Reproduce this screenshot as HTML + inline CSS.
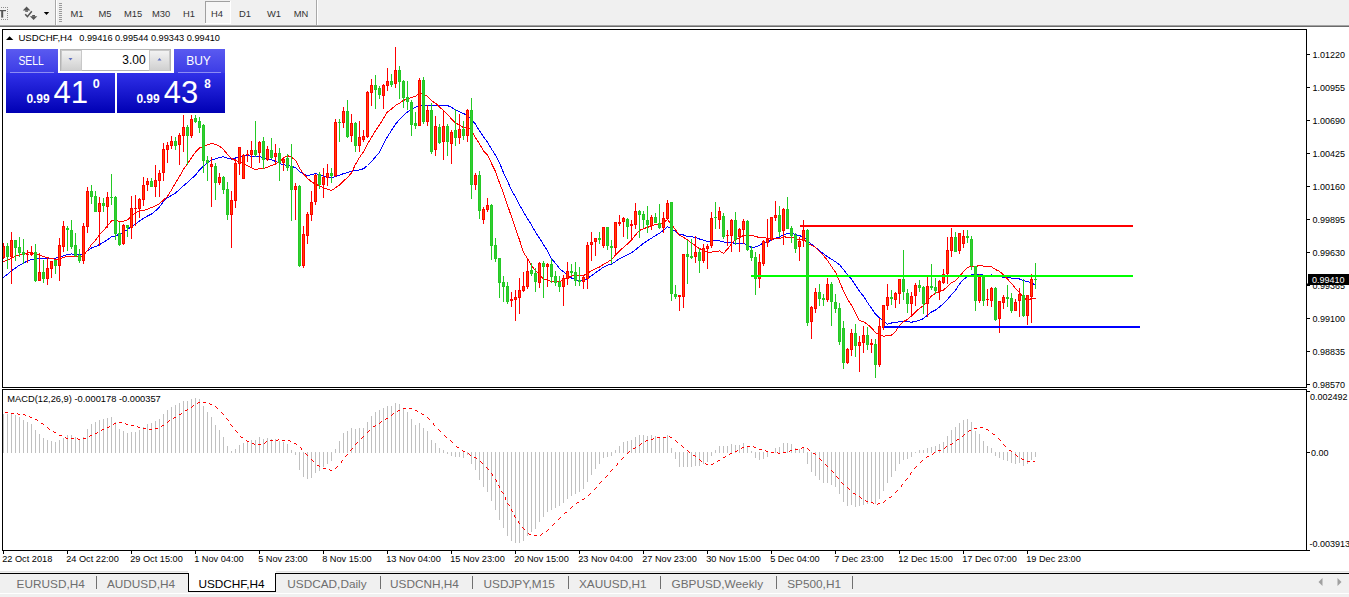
<!DOCTYPE html><html><head><meta charset="utf-8"><style>html,body{margin:0;padding:0;background:#fff;overflow:hidden}svg{display:block}text{font-family:"Liberation Sans",sans-serif}</style></head><body><svg width="1349" height="597" viewBox="0 0 1349 597"><rect x="0" y="0" width="1349" height="25" fill="#f0f0f0" />
<rect x="0" y="25" width="1349" height="1" fill="#a4a4a4" />
<rect x="0" y="26" width="1349" height="1" fill="#6a6a6a" />
<rect x="0" y="10" width="6" height="1.2" fill="#555" />
<rect x="1.2" y="10" width="2" height="7.6" fill="#555" />
<rect x="1" y="7" width="0.8" height="0.8" fill="#555" />
<rect x="1" y="19" width="0.8" height="0.8" fill="#555" />
<rect x="3" y="7" width="0.8" height="0.8" fill="#555" />
<rect x="3" y="19" width="0.8" height="0.8" fill="#555" />
<rect x="5" y="7" width="0.8" height="0.8" fill="#555" />
<rect x="5" y="19" width="0.8" height="0.8" fill="#555" />
<rect x="7.2" y="7" width="0.8" height="0.8" fill="#555" />
<rect x="7.2" y="9" width="0.8" height="0.8" fill="#555" />
<rect x="7.2" y="11" width="0.8" height="0.8" fill="#555" />
<rect x="7.2" y="13" width="0.8" height="0.8" fill="#555" />
<rect x="7.2" y="15" width="0.8" height="0.8" fill="#555" />
<rect x="7.2" y="17" width="0.8" height="0.8" fill="#555" />
<rect x="7.2" y="19" width="0.8" height="0.8" fill="#555" />
<path d="M22.8 10.6 L26.6 6.6 L30.4 10.6 Z" fill="#555"/>
<rect x="25.2" y="10.4" width="2.8" height="1.4" fill="#555" />
<path d="M29.9 16.2 L37.3 16.2 L33.6 20 Z" fill="#555"/>
<rect x="32.2" y="15" width="2.8" height="1.4" fill="#555" />
<path d="M25.2 14.2 L27.4 16.6 L31.8 11.2" stroke="#555" stroke-width="1.5" fill="none"/>
<path d="M43.8 12 L49.2 12 L46.5 15 Z" fill="#000"/>
<rect x="55" y="0" width="1" height="25" fill="#a8a8a8" />
<rect x="56" y="0" width="1" height="25" fill="#ffffff" />
<rect x="59" y="3" width="3" height="1" fill="#9a9a9a" />
<rect x="59" y="5" width="3" height="1" fill="#9a9a9a" />
<rect x="59" y="7" width="3" height="1" fill="#9a9a9a" />
<rect x="59" y="9" width="3" height="1" fill="#9a9a9a" />
<rect x="59" y="11" width="3" height="1" fill="#9a9a9a" />
<rect x="59" y="13" width="3" height="1" fill="#9a9a9a" />
<rect x="59" y="15" width="3" height="1" fill="#9a9a9a" />
<rect x="59" y="17" width="3" height="1" fill="#9a9a9a" />
<rect x="59" y="19" width="3" height="1" fill="#9a9a9a" />
<rect x="59" y="21" width="3" height="1" fill="#9a9a9a" />
<rect x="205" y="1" width="26" height="23" fill="#ffffff" />
<rect x="206" y="2" width="24" height="21" fill="#f6f6f6" />
<rect x="205" y="1" width="25" height="1" fill="#a0a0a0" />
<rect x="205" y="1" width="1" height="22" fill="#a0a0a0" />
<text x="77" y="17" font-size="9.4" fill="#333" text-anchor="middle" font-weight="normal" >M1</text>
<text x="105" y="17" font-size="9.4" fill="#333" text-anchor="middle" font-weight="normal" >M5</text>
<text x="133" y="17" font-size="9.4" fill="#333" text-anchor="middle" font-weight="normal" >M15</text>
<text x="161" y="17" font-size="9.4" fill="#333" text-anchor="middle" font-weight="normal" >M30</text>
<text x="189" y="17" font-size="9.4" fill="#333" text-anchor="middle" font-weight="normal" >H1</text>
<text x="217" y="17" font-size="9.4" fill="#333" text-anchor="middle" font-weight="normal" >H4</text>
<text x="245" y="17" font-size="9.4" fill="#333" text-anchor="middle" font-weight="normal" >D1</text>
<text x="274" y="17" font-size="9.4" fill="#333" text-anchor="middle" font-weight="normal" >W1</text>
<text x="301" y="17" font-size="9.4" fill="#333" text-anchor="middle" font-weight="normal" >MN</text>
<rect x="316" y="0" width="1" height="25" fill="#a8a8a8" />
<rect x="317" y="0" width="1" height="25" fill="#ffffff" />
<rect x="0" y="27" width="1349" height="544" fill="#ffffff" />
<rect x="2.5" y="29.5" width="1304" height="358" fill="none" stroke="#000" stroke-width="1"/>
<rect x="2.5" y="389.5" width="1304" height="161" fill="none" stroke="#000" stroke-width="1"/>
<rect x="1307" y="54" width="3" height="1" fill="#000" />
<text x="1312.5" y="57.5" font-size="9" fill="#000" text-anchor="start" font-weight="normal" >1.01220</text>
<rect x="1307" y="87" width="3" height="1" fill="#000" />
<text x="1312.5" y="90.5" font-size="9" fill="#000" text-anchor="start" font-weight="normal" >1.00955</text>
<rect x="1307" y="120" width="3" height="1" fill="#000" />
<text x="1312.5" y="123.5" font-size="9" fill="#000" text-anchor="start" font-weight="normal" >1.00690</text>
<rect x="1307" y="153" width="3" height="1" fill="#000" />
<text x="1312.5" y="156.5" font-size="9" fill="#000" text-anchor="start" font-weight="normal" >1.00425</text>
<rect x="1307" y="186" width="3" height="1" fill="#000" />
<text x="1312.5" y="189.5" font-size="9" fill="#000" text-anchor="start" font-weight="normal" >1.00160</text>
<rect x="1307" y="219" width="3" height="1" fill="#000" />
<text x="1312.5" y="222.5" font-size="9" fill="#000" text-anchor="start" font-weight="normal" >0.99895</text>
<rect x="1307" y="252" width="3" height="1" fill="#000" />
<text x="1312.5" y="255.5" font-size="9" fill="#000" text-anchor="start" font-weight="normal" >0.99630</text>
<rect x="1307" y="285" width="3" height="1" fill="#000" />
<text x="1312.5" y="288.5" font-size="9" fill="#000" text-anchor="start" font-weight="normal" >0.99365</text>
<rect x="1307" y="318" width="3" height="1" fill="#000" />
<text x="1312.5" y="321.5" font-size="9" fill="#000" text-anchor="start" font-weight="normal" >0.99100</text>
<rect x="1307" y="351" width="3" height="1" fill="#000" />
<text x="1312.5" y="354.5" font-size="9" fill="#000" text-anchor="start" font-weight="normal" >0.98835</text>
<rect x="1307" y="384" width="3" height="1" fill="#000" />
<text x="1312.5" y="387.5" font-size="9" fill="#000" text-anchor="start" font-weight="normal" >0.98570</text>
<rect x="1307" y="391" width="3" height="1" fill="#000" />
<text x="1310" y="399.5" font-size="9" fill="#000" text-anchor="start" font-weight="normal" >0.002492</text>
<rect x="1307" y="452" width="3" height="1" fill="#000" />
<text x="1311" y="455.5" font-size="9" fill="#000" text-anchor="start" font-weight="normal" >0.00</text>
<rect x="1307" y="550" width="3" height="1" fill="#000" />
<text x="1309.5" y="546.7" font-size="9" fill="#000" text-anchor="start" font-weight="normal" >-0.003913</text>
<rect x="3" y="551" width="1" height="3" fill="#000" />
<text x="2.2" y="562.3" font-size="9.2" fill="#000" text-anchor="start" font-weight="normal" >22 Oct 2018</text>
<rect x="67" y="551" width="1" height="3" fill="#000" />
<text x="66.2" y="562.3" font-size="9.2" fill="#000" text-anchor="start" font-weight="normal" >24 Oct 22:00</text>
<rect x="131" y="551" width="1" height="3" fill="#000" />
<text x="130.2" y="562.3" font-size="9.2" fill="#000" text-anchor="start" font-weight="normal" >29 Oct 15:00</text>
<rect x="195" y="551" width="1" height="3" fill="#000" />
<text x="194.2" y="562.3" font-size="9.2" fill="#000" text-anchor="start" font-weight="normal" >1 Nov 04:00</text>
<rect x="259" y="551" width="1" height="3" fill="#000" />
<text x="258.2" y="562.3" font-size="9.2" fill="#000" text-anchor="start" font-weight="normal" >5 Nov 23:00</text>
<rect x="323" y="551" width="1" height="3" fill="#000" />
<text x="322.2" y="562.3" font-size="9.2" fill="#000" text-anchor="start" font-weight="normal" >8 Nov 15:00</text>
<rect x="387" y="551" width="1" height="3" fill="#000" />
<text x="386.2" y="562.3" font-size="9.2" fill="#000" text-anchor="start" font-weight="normal" >13 Nov 04:00</text>
<rect x="451" y="551" width="1" height="3" fill="#000" />
<text x="450.2" y="562.3" font-size="9.2" fill="#000" text-anchor="start" font-weight="normal" >15 Nov 23:00</text>
<rect x="515" y="551" width="1" height="3" fill="#000" />
<text x="514.2" y="562.3" font-size="9.2" fill="#000" text-anchor="start" font-weight="normal" >20 Nov 15:00</text>
<rect x="579" y="551" width="1" height="3" fill="#000" />
<text x="578.2" y="562.3" font-size="9.2" fill="#000" text-anchor="start" font-weight="normal" >23 Nov 04:00</text>
<rect x="643" y="551" width="1" height="3" fill="#000" />
<text x="642.2" y="562.3" font-size="9.2" fill="#000" text-anchor="start" font-weight="normal" >27 Nov 23:00</text>
<rect x="707" y="551" width="1" height="3" fill="#000" />
<text x="706.2" y="562.3" font-size="9.2" fill="#000" text-anchor="start" font-weight="normal" >30 Nov 15:00</text>
<rect x="771" y="551" width="1" height="3" fill="#000" />
<text x="770.2" y="562.3" font-size="9.2" fill="#000" text-anchor="start" font-weight="normal" >5 Dec 04:00</text>
<rect x="835" y="551" width="1" height="3" fill="#000" />
<text x="834.2" y="562.3" font-size="9.2" fill="#000" text-anchor="start" font-weight="normal" >7 Dec 23:00</text>
<rect x="899" y="551" width="1" height="3" fill="#000" />
<text x="898.2" y="562.3" font-size="9.2" fill="#000" text-anchor="start" font-weight="normal" >12 Dec 15:00</text>
<rect x="963" y="551" width="1" height="3" fill="#000" />
<text x="962.2" y="562.3" font-size="9.2" fill="#000" text-anchor="start" font-weight="normal" >17 Dec 07:00</text>
<rect x="1027" y="551" width="1" height="3" fill="#000" />
<text x="1026.2" y="562.3" font-size="9.2" fill="#000" text-anchor="start" font-weight="normal" >19 Dec 23:00</text>
<defs><clipPath id="cm"><rect x="3" y="30" width="1303" height="357"/></clipPath><clipPath id="cd"><rect x="3" y="390" width="1303" height="160"/></clipPath></defs>
<g clip-path="url(#cm)" shape-rendering="crispEdges">
<polyline points="-0.5,280.0 3.5,277.2 7.5,274.4 11.5,270.9 15.5,267.9 19.5,265.2 23.5,263.0 27.5,261.0 31.5,259.2 35.5,259.0 39.5,258.7 43.5,258.8 47.5,258.6 51.5,258.2 55.5,258.1 59.5,257.3 63.5,255.7 67.5,254.4 71.5,254.0 75.5,254.2 79.5,254.6 83.5,253.5 87.5,250.9 91.5,248.0 95.5,246.6 99.5,244.5 103.5,242.3 107.5,239.6 111.5,236.9 115.5,235.9 119.5,234.2 123.5,232.0 127.5,229.5 131.5,226.7 135.5,224.2 139.5,221.0 143.5,218.2 147.5,216.0 151.5,214.0 155.5,210.8 159.5,206.9 163.5,201.6 167.5,197.8 171.5,195.4 175.5,193.0 179.5,189.4 183.5,185.7 187.5,182.4 191.5,178.7 195.5,175.1 199.5,170.0 203.5,166.0 207.5,163.0 211.5,160.0 215.5,158.8 219.5,157.3 223.5,156.8 227.5,158.2 231.5,159.1 235.5,158.0 239.5,156.5 243.5,155.6 247.5,155.8 251.5,156.1 255.5,156.7 259.5,156.5 263.5,157.7 267.5,158.7 271.5,159.8 275.5,161.4 279.5,163.4 283.5,164.9 287.5,165.2 291.5,166.5 295.5,167.5 299.5,171.5 303.5,174.2 307.5,175.4 311.5,174.8 315.5,173.6 319.5,174.6 323.5,176.1 327.5,176.9 331.5,177.9 335.5,176.6 339.5,175.1 343.5,173.6 347.5,172.5 351.5,171.3 355.5,170.7 359.5,169.9 363.5,168.7 367.5,165.5 371.5,161.6 375.5,156.8 379.5,152.5 383.5,143.9 387.5,136.6 391.5,130.4 395.5,124.1 399.5,119.6 403.5,115.5 407.5,111.9 411.5,109.5 415.5,107.2 419.5,105.2 423.5,105.1 427.5,105.1 431.5,105.8 435.5,105.9 439.5,105.8 443.5,105.3 447.5,105.5 451.5,107.4 455.5,109.9 459.5,111.8 463.5,113.7 467.5,114.9 471.5,119.8 475.5,124.2 479.5,130.8 483.5,136.9 487.5,142.1 491.5,148.9 495.5,155.3 499.5,162.8 503.5,172.6 507.5,181.2 511.5,190.2 515.5,197.1 519.5,204.9 523.5,211.8 527.5,218.7 531.5,225.0 535.5,232.1 539.5,238.1 543.5,244.6 547.5,250.7 551.5,258.6 555.5,263.3 559.5,268.6 563.5,271.8 567.5,274.8 571.5,278.0 575.5,279.6 579.5,280.7 583.5,280.5 587.5,278.5 591.5,275.7 595.5,272.8 599.5,270.1 603.5,267.1 607.5,265.1 611.5,264.0 615.5,261.5 619.5,258.7 623.5,256.6 627.5,254.7 631.5,252.8 635.5,249.7 639.5,246.5 643.5,243.3 647.5,240.7 651.5,238.1 655.5,235.7 659.5,233.2 663.5,230.2 667.5,226.7 671.5,229.0 675.5,231.5 679.5,234.3 683.5,235.0 687.5,236.4 691.5,236.9 695.5,237.2 699.5,239.0 703.5,240.2 707.5,241.5 711.5,241.2 715.5,240.8 719.5,240.8 723.5,241.9 727.5,242.6 731.5,242.5 735.5,243.5 739.5,243.8 743.5,243.5 747.5,245.0 751.5,247.6 755.5,246.9 759.5,245.3 763.5,242.7 767.5,242.0 771.5,240.1 775.5,238.1 779.5,237.1 783.5,234.7 787.5,233.7 791.5,233.2 795.5,234.6 799.5,235.8 803.5,236.7 807.5,240.8 811.5,244.2 815.5,247.6 819.5,250.5 823.5,253.8 827.5,256.8 831.5,259.3 835.5,261.7 839.5,264.7 843.5,269.5 847.5,274.6 851.5,279.1 855.5,285.2 859.5,291.2 863.5,296.2 867.5,302.6 871.5,308.1 875.5,314.2 879.5,317.9 883.5,321.0 887.5,324.2 891.5,323.0 895.5,322.4 899.5,321.7 903.5,321.4 907.5,321.6 911.5,322.2 915.5,321.4 919.5,320.4 923.5,318.6 927.5,315.0 931.5,312.0 935.5,310.0 939.5,306.9 943.5,303.7 947.5,299.6 951.5,294.5 955.5,290.2 959.5,283.9 963.5,279.6 967.5,276.4 971.5,274.9 975.5,275.0 979.5,274.2 983.5,275.2 987.5,275.6 991.5,274.9 995.5,276.0 999.5,276.7 1003.5,277.2 1007.5,277.0 1011.5,278.1 1015.5,278.8 1019.5,279.0 1023.5,280.6 1027.5,281.6 1031.5,283.0 1035.5,285.0" fill="none" stroke="#0000ff" stroke-width="1"/>
<polyline points="-0.5,262.7 3.5,261.5 7.5,260.4 11.5,258.1 15.5,256.3 19.5,255.0 23.5,253.9 27.5,253.0 31.5,252.4 35.5,253.9 39.5,255.0 43.5,256.7 47.5,257.8 51.5,258.4 55.5,259.5 59.5,259.4 63.5,257.3 67.5,256.5 71.5,256.4 75.5,256.6 79.5,257.1 83.5,255.1 87.5,250.6 91.5,244.6 95.5,240.3 99.5,234.9 103.5,230.4 107.5,225.9 111.5,221.0 115.5,220.1 119.5,221.4 123.5,221.1 127.5,219.8 131.5,216.4 135.5,212.7 139.5,210.8 143.5,210.4 147.5,209.3 151.5,207.5 155.5,205.9 159.5,203.6 163.5,200.1 167.5,196.4 171.5,189.9 175.5,182.8 179.5,176.4 183.5,169.2 187.5,164.0 191.5,157.6 195.5,152.1 199.5,147.9 203.5,146.4 207.5,144.7 211.5,143.6 215.5,144.2 219.5,146.2 223.5,149.4 227.5,154.6 231.5,158.5 235.5,160.5 239.5,161.9 243.5,163.4 247.5,165.9 251.5,167.9 255.5,169.9 259.5,168.6 263.5,168.4 267.5,167.3 271.5,165.5 275.5,163.8 279.5,161.9 283.5,157.9 287.5,155.6 291.5,157.4 295.5,160.2 299.5,168.1 303.5,173.8 307.5,178.4 311.5,181.8 315.5,184.1 319.5,185.9 323.5,187.9 327.5,189.1 331.5,190.6 335.5,187.8 339.5,185.1 343.5,181.1 347.5,177.4 351.5,172.9 355.5,164.3 359.5,157.4 363.5,151.8 367.5,143.9 371.5,137.5 375.5,130.7 379.5,124.8 383.5,118.5 387.5,111.8 391.5,109.1 395.5,105.4 399.5,103.2 403.5,100.4 407.5,98.9 411.5,97.4 415.5,96.5 419.5,92.5 423.5,94.6 427.5,96.4 431.5,100.8 435.5,103.1 439.5,107.1 443.5,110.4 447.5,114.4 451.5,118.9 455.5,122.9 459.5,125.1 463.5,127.6 467.5,126.6 471.5,130.8 475.5,137.6 479.5,143.9 483.5,151.0 487.5,154.9 491.5,163.4 495.5,171.6 499.5,182.8 503.5,193.1 507.5,205.2 511.5,216.8 515.5,228.8 519.5,239.9 523.5,252.4 527.5,258.6 531.5,265.6 535.5,270.7 539.5,274.6 543.5,278.9 547.5,280.3 551.5,281.6 555.5,281.6 559.5,281.6 563.5,279.9 567.5,277.9 571.5,276.1 575.5,275.4 579.5,275.1 583.5,275.5 587.5,273.5 591.5,270.7 595.5,268.9 599.5,267.0 603.5,264.4 607.5,262.1 611.5,259.6 615.5,255.1 619.5,251.1 623.5,247.3 627.5,244.0 631.5,240.0 635.5,235.0 639.5,230.5 643.5,228.6 647.5,227.4 651.5,225.9 655.5,224.6 659.5,224.6 663.5,222.7 667.5,219.6 671.5,224.6 675.5,229.9 679.5,235.4 683.5,237.4 687.5,239.7 691.5,243.0 695.5,245.7 699.5,248.6 703.5,250.4 707.5,252.4 711.5,252.1 715.5,251.4 719.5,250.9 723.5,253.3 727.5,249.1 731.5,243.7 735.5,239.7 739.5,237.9 743.5,235.4 747.5,234.9 751.5,235.2 755.5,236.5 759.5,237.5 763.5,237.1 767.5,238.6 771.5,238.6 775.5,238.9 779.5,238.6 783.5,236.7 787.5,237.3 791.5,237.0 795.5,238.4 799.5,239.8 803.5,238.4 807.5,243.1 811.5,245.1 815.5,247.3 819.5,251.4 823.5,255.6 827.5,260.4 831.5,266.6 835.5,272.1 839.5,281.5 843.5,291.1 847.5,299.2 851.5,305.3 855.5,312.7 859.5,320.7 863.5,321.6 867.5,324.3 871.5,327.9 875.5,332.6 879.5,334.6 883.5,336.1 887.5,335.8 891.5,335.1 895.5,331.6 899.5,325.7 903.5,321.6 907.5,319.4 911.5,315.9 915.5,311.9 919.5,308.4 923.5,305.5 927.5,301.4 931.5,295.9 935.5,293.4 939.5,291.6 943.5,290.0 947.5,286.6 951.5,282.6 955.5,280.6 959.5,276.4 963.5,271.6 967.5,267.4 971.5,266.0 975.5,266.9 979.5,265.1 983.5,266.1 987.5,266.9 991.5,266.8 995.5,269.5 999.5,271.4 1003.5,274.8 1007.5,279.1 1011.5,283.4 1015.5,288.3 1019.5,292.4 1023.5,298.0 1027.5,300.1 1031.5,298.6 1035.5,298.8" fill="none" stroke="#ff0000" stroke-width="1"/>
<rect x="3" y="243" width="1" height="16" fill="#ff0000" />
<rect x="2" y="246" width="3" height="12" fill="#ff0000" />
<rect x="3" y="247" width="1" height="10" fill="#ff4500" />
<rect x="7" y="243" width="1" height="26" fill="#24c924" />
<rect x="6" y="246" width="3" height="11" fill="#24c924" />
<rect x="7" y="247" width="1" height="9" fill="#32cd32" />
<rect x="11" y="232" width="1" height="52" fill="#ff0000" />
<rect x="10" y="240" width="3" height="17" fill="#ff0000" />
<rect x="11" y="241" width="1" height="15" fill="#ff4500" />
<rect x="15" y="240" width="1" height="21" fill="#24c924" />
<rect x="14" y="240" width="3" height="8" fill="#24c924" />
<rect x="15" y="241" width="1" height="6" fill="#32cd32" />
<rect x="19" y="237" width="1" height="20" fill="#24c924" />
<rect x="18" y="247" width="3" height="6" fill="#24c924" />
<rect x="19" y="248" width="1" height="4" fill="#32cd32" />
<rect x="23" y="239" width="1" height="25" fill="#24c924" />
<rect x="22" y="252" width="3" height="3" fill="#24c924" />
<rect x="23" y="253" width="1" height="1" fill="#32cd32" />
<rect x="27" y="250" width="1" height="13" fill="#ff0000" />
<rect x="26" y="254" width="3" height="1" fill="#ff0000" />
<rect x="31" y="246" width="1" height="10" fill="#ff0000" />
<rect x="30" y="253" width="3" height="2" fill="#ff0000" />
<rect x="35" y="244" width="1" height="38" fill="#24c924" />
<rect x="34" y="252" width="3" height="29" fill="#24c924" />
<rect x="35" y="253" width="1" height="27" fill="#32cd32" />
<rect x="39" y="253" width="1" height="28" fill="#ff0000" />
<rect x="38" y="272" width="3" height="9" fill="#ff0000" />
<rect x="39" y="273" width="1" height="7" fill="#ff4500" />
<rect x="43" y="260" width="1" height="23" fill="#24c924" />
<rect x="42" y="272" width="3" height="7" fill="#24c924" />
<rect x="43" y="273" width="1" height="5" fill="#32cd32" />
<rect x="47" y="258" width="1" height="27" fill="#ff0000" />
<rect x="46" y="268" width="3" height="11" fill="#ff0000" />
<rect x="47" y="269" width="1" height="9" fill="#ff4500" />
<rect x="51" y="261" width="1" height="17" fill="#ff0000" />
<rect x="50" y="261" width="3" height="8" fill="#ff0000" />
<rect x="51" y="262" width="1" height="6" fill="#ff4500" />
<rect x="55" y="260" width="1" height="14" fill="#24c924" />
<rect x="54" y="260" width="3" height="6" fill="#24c924" />
<rect x="55" y="261" width="1" height="4" fill="#32cd32" />
<rect x="59" y="238" width="1" height="43" fill="#ff0000" />
<rect x="58" y="245" width="3" height="21" fill="#ff0000" />
<rect x="59" y="246" width="1" height="19" fill="#ff4500" />
<rect x="63" y="221" width="1" height="31" fill="#ff0000" />
<rect x="62" y="226" width="3" height="21" fill="#ff0000" />
<rect x="63" y="227" width="1" height="19" fill="#ff4500" />
<rect x="67" y="226" width="1" height="25" fill="#24c924" />
<rect x="66" y="228" width="3" height="2" fill="#24c924" />
<rect x="71" y="220" width="1" height="29" fill="#24c924" />
<rect x="70" y="230" width="3" height="17" fill="#24c924" />
<rect x="71" y="231" width="1" height="15" fill="#32cd32" />
<rect x="75" y="233" width="1" height="24" fill="#24c924" />
<rect x="74" y="245" width="3" height="11" fill="#24c924" />
<rect x="75" y="246" width="1" height="9" fill="#32cd32" />
<rect x="79" y="249" width="1" height="14" fill="#24c924" />
<rect x="78" y="255" width="3" height="6" fill="#24c924" />
<rect x="79" y="256" width="1" height="4" fill="#32cd32" />
<rect x="83" y="223" width="1" height="41" fill="#ff0000" />
<rect x="82" y="226" width="3" height="35" fill="#ff0000" />
<rect x="83" y="227" width="1" height="33" fill="#ff4500" />
<rect x="87" y="187" width="1" height="46" fill="#ff0000" />
<rect x="86" y="191" width="3" height="36" fill="#ff0000" />
<rect x="87" y="192" width="1" height="34" fill="#ff4500" />
<rect x="91" y="185" width="1" height="19" fill="#24c924" />
<rect x="90" y="191" width="3" height="6" fill="#24c924" />
<rect x="91" y="192" width="1" height="4" fill="#32cd32" />
<rect x="95" y="191" width="1" height="21" fill="#24c924" />
<rect x="94" y="196" width="3" height="16" fill="#24c924" />
<rect x="95" y="197" width="1" height="14" fill="#32cd32" />
<rect x="99" y="197" width="1" height="49" fill="#ff0000" />
<rect x="98" y="203" width="3" height="9" fill="#ff0000" />
<rect x="99" y="204" width="1" height="7" fill="#ff4500" />
<rect x="103" y="198" width="1" height="14" fill="#24c924" />
<rect x="102" y="203" width="3" height="3" fill="#24c924" />
<rect x="103" y="204" width="1" height="1" fill="#32cd32" />
<rect x="107" y="192" width="1" height="36" fill="#ff0000" />
<rect x="106" y="197" width="3" height="10" fill="#ff0000" />
<rect x="107" y="198" width="1" height="8" fill="#ff4500" />
<rect x="111" y="174" width="1" height="31" fill="#24c924" />
<rect x="110" y="197" width="3" height="1" fill="#24c924" />
<rect x="115" y="196" width="1" height="44" fill="#24c924" />
<rect x="114" y="197" width="3" height="37" fill="#24c924" />
<rect x="115" y="198" width="1" height="35" fill="#32cd32" />
<rect x="119" y="222" width="1" height="24" fill="#24c924" />
<rect x="118" y="233" width="3" height="12" fill="#24c924" />
<rect x="119" y="234" width="1" height="10" fill="#32cd32" />
<rect x="123" y="224" width="1" height="21" fill="#ff0000" />
<rect x="122" y="225" width="3" height="19" fill="#ff0000" />
<rect x="123" y="226" width="1" height="17" fill="#ff4500" />
<rect x="127" y="225" width="1" height="12" fill="#24c924" />
<rect x="126" y="225" width="3" height="3" fill="#24c924" />
<rect x="127" y="226" width="1" height="1" fill="#32cd32" />
<rect x="131" y="196" width="1" height="43" fill="#ff0000" />
<rect x="130" y="208" width="3" height="20" fill="#ff0000" />
<rect x="131" y="209" width="1" height="18" fill="#ff4500" />
<rect x="135" y="195" width="1" height="31" fill="#ff0000" />
<rect x="134" y="208" width="3" height="1" fill="#ff0000" />
<rect x="139" y="198" width="1" height="20" fill="#ff0000" />
<rect x="138" y="199" width="3" height="10" fill="#ff0000" />
<rect x="139" y="200" width="1" height="8" fill="#ff4500" />
<rect x="143" y="177" width="1" height="29" fill="#ff0000" />
<rect x="142" y="185" width="3" height="15" fill="#ff0000" />
<rect x="143" y="186" width="1" height="13" fill="#ff4500" />
<rect x="147" y="178" width="1" height="13" fill="#ff0000" />
<rect x="146" y="181" width="3" height="4" fill="#ff0000" />
<rect x="147" y="182" width="1" height="2" fill="#ff4500" />
<rect x="151" y="178" width="1" height="9" fill="#24c924" />
<rect x="150" y="181" width="3" height="6" fill="#24c924" />
<rect x="151" y="182" width="1" height="4" fill="#32cd32" />
<rect x="155" y="165" width="1" height="32" fill="#ff0000" />
<rect x="154" y="180" width="3" height="7" fill="#ff0000" />
<rect x="155" y="181" width="1" height="5" fill="#ff4500" />
<rect x="159" y="170" width="1" height="27" fill="#ff0000" />
<rect x="158" y="173" width="3" height="8" fill="#ff0000" />
<rect x="159" y="174" width="1" height="6" fill="#ff4500" />
<rect x="163" y="143" width="1" height="38" fill="#ff0000" />
<rect x="162" y="149" width="3" height="24" fill="#ff0000" />
<rect x="163" y="150" width="1" height="22" fill="#ff4500" />
<rect x="167" y="142" width="1" height="21" fill="#ff0000" />
<rect x="166" y="145" width="3" height="5" fill="#ff0000" />
<rect x="167" y="146" width="1" height="3" fill="#ff4500" />
<rect x="171" y="136" width="1" height="13" fill="#ff0000" />
<rect x="170" y="141" width="3" height="5" fill="#ff0000" />
<rect x="171" y="142" width="1" height="3" fill="#ff4500" />
<rect x="175" y="137" width="1" height="13" fill="#24c924" />
<rect x="174" y="141" width="3" height="5" fill="#24c924" />
<rect x="175" y="142" width="1" height="3" fill="#32cd32" />
<rect x="179" y="133" width="1" height="32" fill="#ff0000" />
<rect x="178" y="135" width="3" height="10" fill="#ff0000" />
<rect x="179" y="136" width="1" height="8" fill="#ff4500" />
<rect x="183" y="115" width="1" height="37" fill="#ff0000" />
<rect x="182" y="127" width="3" height="9" fill="#ff0000" />
<rect x="183" y="128" width="1" height="7" fill="#ff4500" />
<rect x="187" y="125" width="1" height="40" fill="#24c924" />
<rect x="186" y="127" width="3" height="9" fill="#24c924" />
<rect x="187" y="128" width="1" height="7" fill="#32cd32" />
<rect x="191" y="115" width="1" height="23" fill="#ff0000" />
<rect x="190" y="119" width="3" height="17" fill="#ff0000" />
<rect x="191" y="120" width="1" height="15" fill="#ff4500" />
<rect x="195" y="115" width="1" height="8" fill="#24c924" />
<rect x="194" y="118" width="3" height="4" fill="#24c924" />
<rect x="195" y="119" width="1" height="2" fill="#32cd32" />
<rect x="199" y="117" width="1" height="16" fill="#24c924" />
<rect x="198" y="121" width="3" height="7" fill="#24c924" />
<rect x="199" y="122" width="1" height="5" fill="#32cd32" />
<rect x="203" y="124" width="1" height="49" fill="#24c924" />
<rect x="202" y="125" width="3" height="36" fill="#24c924" />
<rect x="203" y="126" width="1" height="34" fill="#32cd32" />
<rect x="207" y="156" width="1" height="25" fill="#24c924" />
<rect x="206" y="160" width="3" height="3" fill="#24c924" />
<rect x="207" y="161" width="1" height="1" fill="#32cd32" />
<rect x="211" y="157" width="1" height="50" fill="#ff0000" />
<rect x="210" y="164" width="3" height="3" fill="#ff0000" />
<rect x="211" y="165" width="1" height="1" fill="#ff4500" />
<rect x="215" y="163" width="1" height="37" fill="#24c924" />
<rect x="214" y="166" width="3" height="17" fill="#24c924" />
<rect x="215" y="167" width="1" height="15" fill="#32cd32" />
<rect x="219" y="173" width="1" height="12" fill="#ff0000" />
<rect x="218" y="177" width="3" height="6" fill="#ff0000" />
<rect x="219" y="178" width="1" height="4" fill="#ff4500" />
<rect x="223" y="176" width="1" height="18" fill="#24c924" />
<rect x="222" y="177" width="3" height="13" fill="#24c924" />
<rect x="223" y="178" width="1" height="11" fill="#32cd32" />
<rect x="227" y="182" width="1" height="38" fill="#24c924" />
<rect x="226" y="189" width="3" height="26" fill="#24c924" />
<rect x="227" y="190" width="1" height="24" fill="#32cd32" />
<rect x="231" y="191" width="1" height="57" fill="#ff0000" />
<rect x="230" y="200" width="3" height="15" fill="#ff0000" />
<rect x="231" y="201" width="1" height="13" fill="#ff4500" />
<rect x="235" y="159" width="1" height="49" fill="#ff0000" />
<rect x="234" y="163" width="3" height="38" fill="#ff0000" />
<rect x="235" y="164" width="1" height="36" fill="#ff4500" />
<rect x="239" y="147" width="1" height="28" fill="#ff0000" />
<rect x="238" y="147" width="3" height="17" fill="#ff0000" />
<rect x="239" y="148" width="1" height="15" fill="#ff4500" />
<rect x="243" y="154" width="1" height="25" fill="#ff0000" />
<rect x="242" y="155" width="3" height="24" fill="#ff0000" />
<rect x="243" y="156" width="1" height="22" fill="#ff4500" />
<rect x="247" y="150" width="1" height="12" fill="#ff0000" />
<rect x="246" y="154" width="3" height="1" fill="#ff0000" />
<rect x="251" y="141" width="1" height="27" fill="#ff0000" />
<rect x="250" y="150" width="3" height="5" fill="#ff0000" />
<rect x="251" y="151" width="1" height="3" fill="#ff4500" />
<rect x="255" y="121" width="1" height="36" fill="#24c924" />
<rect x="254" y="150" width="3" height="5" fill="#24c924" />
<rect x="255" y="151" width="1" height="3" fill="#32cd32" />
<rect x="259" y="141" width="1" height="22" fill="#ff0000" />
<rect x="258" y="142" width="3" height="11" fill="#ff0000" />
<rect x="259" y="143" width="1" height="9" fill="#ff4500" />
<rect x="263" y="137" width="1" height="32" fill="#24c924" />
<rect x="262" y="141" width="3" height="19" fill="#24c924" />
<rect x="263" y="142" width="1" height="17" fill="#32cd32" />
<rect x="267" y="146" width="1" height="15" fill="#ff0000" />
<rect x="266" y="149" width="3" height="11" fill="#ff0000" />
<rect x="267" y="150" width="1" height="9" fill="#ff4500" />
<rect x="271" y="138" width="1" height="21" fill="#24c924" />
<rect x="270" y="150" width="3" height="8" fill="#24c924" />
<rect x="271" y="151" width="1" height="6" fill="#32cd32" />
<rect x="275" y="144" width="1" height="21" fill="#ff0000" />
<rect x="274" y="153" width="3" height="4" fill="#ff0000" />
<rect x="275" y="154" width="1" height="2" fill="#ff4500" />
<rect x="279" y="148" width="1" height="33" fill="#24c924" />
<rect x="278" y="153" width="3" height="10" fill="#24c924" />
<rect x="279" y="154" width="1" height="8" fill="#32cd32" />
<rect x="283" y="158" width="1" height="13" fill="#ff0000" />
<rect x="282" y="159" width="3" height="4" fill="#ff0000" />
<rect x="283" y="160" width="1" height="2" fill="#ff4500" />
<rect x="287" y="154" width="1" height="17" fill="#24c924" />
<rect x="286" y="158" width="3" height="10" fill="#24c924" />
<rect x="287" y="159" width="1" height="8" fill="#32cd32" />
<rect x="291" y="144" width="1" height="77" fill="#24c924" />
<rect x="290" y="166" width="3" height="24" fill="#24c924" />
<rect x="291" y="167" width="1" height="22" fill="#32cd32" />
<rect x="295" y="183" width="1" height="37" fill="#ff0000" />
<rect x="294" y="186" width="3" height="4" fill="#ff0000" />
<rect x="295" y="187" width="1" height="2" fill="#ff4500" />
<rect x="299" y="185" width="1" height="82" fill="#24c924" />
<rect x="298" y="186" width="3" height="80" fill="#24c924" />
<rect x="299" y="187" width="1" height="78" fill="#32cd32" />
<rect x="303" y="226" width="1" height="42" fill="#ff0000" />
<rect x="302" y="234" width="3" height="32" fill="#ff0000" />
<rect x="303" y="235" width="1" height="30" fill="#ff4500" />
<rect x="307" y="212" width="1" height="32" fill="#ff0000" />
<rect x="306" y="214" width="3" height="22" fill="#ff0000" />
<rect x="307" y="215" width="1" height="20" fill="#ff4500" />
<rect x="311" y="191" width="1" height="30" fill="#ff0000" />
<rect x="310" y="202" width="3" height="13" fill="#ff0000" />
<rect x="311" y="203" width="1" height="11" fill="#ff4500" />
<rect x="315" y="174" width="1" height="31" fill="#ff0000" />
<rect x="314" y="175" width="3" height="27" fill="#ff0000" />
<rect x="315" y="176" width="1" height="25" fill="#ff4500" />
<rect x="319" y="172" width="1" height="17" fill="#24c924" />
<rect x="318" y="174" width="3" height="11" fill="#24c924" />
<rect x="319" y="175" width="1" height="9" fill="#32cd32" />
<rect x="323" y="168" width="1" height="30" fill="#ff0000" />
<rect x="322" y="177" width="3" height="8" fill="#ff0000" />
<rect x="323" y="178" width="1" height="6" fill="#ff4500" />
<rect x="327" y="164" width="1" height="22" fill="#ff0000" />
<rect x="326" y="173" width="3" height="5" fill="#ff0000" />
<rect x="327" y="174" width="1" height="3" fill="#ff4500" />
<rect x="331" y="168" width="1" height="15" fill="#24c924" />
<rect x="330" y="173" width="3" height="3" fill="#24c924" />
<rect x="331" y="174" width="1" height="1" fill="#32cd32" />
<rect x="335" y="119" width="1" height="58" fill="#ff0000" />
<rect x="334" y="122" width="3" height="54" fill="#ff0000" />
<rect x="335" y="123" width="1" height="52" fill="#ff4500" />
<rect x="339" y="119" width="1" height="23" fill="#24c924" />
<rect x="338" y="122" width="3" height="1" fill="#24c924" />
<rect x="343" y="107" width="1" height="21" fill="#ff0000" />
<rect x="342" y="111" width="3" height="12" fill="#ff0000" />
<rect x="343" y="112" width="1" height="10" fill="#ff4500" />
<rect x="347" y="100" width="1" height="38" fill="#24c924" />
<rect x="346" y="111" width="3" height="26" fill="#24c924" />
<rect x="347" y="112" width="1" height="24" fill="#32cd32" />
<rect x="351" y="114" width="1" height="28" fill="#ff0000" />
<rect x="350" y="123" width="3" height="13" fill="#ff0000" />
<rect x="351" y="124" width="1" height="11" fill="#ff4500" />
<rect x="355" y="122" width="1" height="30" fill="#24c924" />
<rect x="354" y="123" width="3" height="23" fill="#24c924" />
<rect x="355" y="124" width="1" height="21" fill="#32cd32" />
<rect x="359" y="121" width="1" height="31" fill="#ff0000" />
<rect x="358" y="137" width="3" height="9" fill="#ff0000" />
<rect x="359" y="138" width="1" height="7" fill="#ff4500" />
<rect x="363" y="130" width="1" height="12" fill="#ff0000" />
<rect x="362" y="136" width="3" height="4" fill="#ff0000" />
<rect x="363" y="137" width="1" height="2" fill="#ff4500" />
<rect x="367" y="91" width="1" height="47" fill="#ff0000" />
<rect x="366" y="92" width="3" height="45" fill="#ff0000" />
<rect x="367" y="93" width="1" height="43" fill="#ff4500" />
<rect x="371" y="79" width="1" height="27" fill="#ff0000" />
<rect x="370" y="85" width="3" height="8" fill="#ff0000" />
<rect x="371" y="86" width="1" height="6" fill="#ff4500" />
<rect x="375" y="75" width="1" height="34" fill="#24c924" />
<rect x="374" y="85" width="3" height="5" fill="#24c924" />
<rect x="375" y="86" width="1" height="3" fill="#32cd32" />
<rect x="379" y="86" width="1" height="13" fill="#24c924" />
<rect x="378" y="88" width="3" height="7" fill="#24c924" />
<rect x="379" y="89" width="1" height="5" fill="#32cd32" />
<rect x="383" y="84" width="1" height="25" fill="#ff0000" />
<rect x="382" y="85" width="3" height="11" fill="#ff0000" />
<rect x="383" y="86" width="1" height="9" fill="#ff4500" />
<rect x="387" y="68" width="1" height="23" fill="#ff0000" />
<rect x="386" y="81" width="3" height="5" fill="#ff0000" />
<rect x="387" y="82" width="1" height="3" fill="#ff4500" />
<rect x="391" y="74" width="1" height="13" fill="#24c924" />
<rect x="390" y="81" width="3" height="4" fill="#24c924" />
<rect x="391" y="82" width="1" height="2" fill="#32cd32" />
<rect x="395" y="47" width="1" height="41" fill="#ff0000" />
<rect x="394" y="70" width="3" height="14" fill="#ff0000" />
<rect x="395" y="71" width="1" height="12" fill="#ff4500" />
<rect x="399" y="66" width="1" height="33" fill="#24c924" />
<rect x="398" y="70" width="3" height="12" fill="#24c924" />
<rect x="399" y="71" width="1" height="10" fill="#32cd32" />
<rect x="403" y="80" width="1" height="28" fill="#24c924" />
<rect x="402" y="81" width="3" height="17" fill="#24c924" />
<rect x="403" y="82" width="1" height="15" fill="#32cd32" />
<rect x="407" y="81" width="1" height="29" fill="#24c924" />
<rect x="406" y="97" width="3" height="5" fill="#24c924" />
<rect x="407" y="98" width="1" height="3" fill="#32cd32" />
<rect x="411" y="100" width="1" height="36" fill="#24c924" />
<rect x="410" y="102" width="3" height="23" fill="#24c924" />
<rect x="411" y="103" width="1" height="21" fill="#32cd32" />
<rect x="415" y="112" width="1" height="17" fill="#24c924" />
<rect x="414" y="123" width="3" height="3" fill="#24c924" />
<rect x="415" y="124" width="1" height="1" fill="#32cd32" />
<rect x="419" y="78" width="1" height="48" fill="#ff0000" />
<rect x="418" y="80" width="3" height="46" fill="#ff0000" />
<rect x="419" y="81" width="1" height="44" fill="#ff4500" />
<rect x="423" y="77" width="1" height="47" fill="#24c924" />
<rect x="422" y="80" width="3" height="42" fill="#24c924" />
<rect x="423" y="81" width="1" height="40" fill="#32cd32" />
<rect x="427" y="105" width="1" height="21" fill="#ff0000" />
<rect x="426" y="110" width="3" height="12" fill="#ff0000" />
<rect x="427" y="111" width="1" height="10" fill="#ff4500" />
<rect x="431" y="103" width="1" height="51" fill="#24c924" />
<rect x="430" y="110" width="3" height="42" fill="#24c924" />
<rect x="431" y="111" width="1" height="40" fill="#32cd32" />
<rect x="435" y="116" width="1" height="40" fill="#ff0000" />
<rect x="434" y="126" width="3" height="24" fill="#ff0000" />
<rect x="435" y="127" width="1" height="22" fill="#ff4500" />
<rect x="439" y="124" width="1" height="20" fill="#24c924" />
<rect x="438" y="127" width="3" height="16" fill="#24c924" />
<rect x="439" y="128" width="1" height="14" fill="#32cd32" />
<rect x="443" y="110" width="1" height="50" fill="#ff0000" />
<rect x="442" y="126" width="3" height="16" fill="#ff0000" />
<rect x="443" y="127" width="1" height="14" fill="#ff4500" />
<rect x="447" y="124" width="1" height="32" fill="#24c924" />
<rect x="446" y="126" width="3" height="16" fill="#24c924" />
<rect x="447" y="127" width="1" height="14" fill="#32cd32" />
<rect x="451" y="130" width="1" height="34" fill="#ff0000" />
<rect x="450" y="132" width="3" height="12" fill="#ff0000" />
<rect x="451" y="133" width="1" height="10" fill="#ff4500" />
<rect x="455" y="109" width="1" height="37" fill="#24c924" />
<rect x="454" y="130" width="3" height="8" fill="#24c924" />
<rect x="455" y="131" width="1" height="6" fill="#32cd32" />
<rect x="459" y="114" width="1" height="30" fill="#ff0000" />
<rect x="458" y="129" width="3" height="9" fill="#ff0000" />
<rect x="459" y="130" width="1" height="7" fill="#ff4500" />
<rect x="463" y="121" width="1" height="19" fill="#24c924" />
<rect x="462" y="129" width="3" height="7" fill="#24c924" />
<rect x="463" y="130" width="1" height="5" fill="#32cd32" />
<rect x="467" y="109" width="1" height="33" fill="#ff0000" />
<rect x="466" y="110" width="3" height="26" fill="#ff0000" />
<rect x="467" y="111" width="1" height="24" fill="#ff4500" />
<rect x="471" y="98" width="1" height="101" fill="#24c924" />
<rect x="470" y="110" width="3" height="75" fill="#24c924" />
<rect x="471" y="111" width="1" height="73" fill="#32cd32" />
<rect x="475" y="173" width="1" height="17" fill="#ff0000" />
<rect x="474" y="175" width="3" height="10" fill="#ff0000" />
<rect x="475" y="176" width="1" height="8" fill="#ff4500" />
<rect x="479" y="171" width="1" height="48" fill="#24c924" />
<rect x="478" y="175" width="3" height="36" fill="#24c924" />
<rect x="479" y="176" width="1" height="34" fill="#32cd32" />
<rect x="483" y="207" width="1" height="17" fill="#ff0000" />
<rect x="482" y="209" width="3" height="11" fill="#ff0000" />
<rect x="483" y="210" width="1" height="9" fill="#ff4500" />
<rect x="487" y="198" width="1" height="14" fill="#ff0000" />
<rect x="486" y="205" width="3" height="5" fill="#ff0000" />
<rect x="487" y="206" width="1" height="3" fill="#ff4500" />
<rect x="491" y="204" width="1" height="56" fill="#24c924" />
<rect x="490" y="205" width="3" height="41" fill="#24c924" />
<rect x="491" y="206" width="1" height="39" fill="#32cd32" />
<rect x="495" y="238" width="1" height="24" fill="#24c924" />
<rect x="494" y="245" width="3" height="14" fill="#24c924" />
<rect x="495" y="246" width="1" height="12" fill="#32cd32" />
<rect x="499" y="258" width="1" height="40" fill="#24c924" />
<rect x="498" y="258" width="3" height="25" fill="#24c924" />
<rect x="499" y="259" width="1" height="23" fill="#32cd32" />
<rect x="503" y="276" width="1" height="26" fill="#24c924" />
<rect x="502" y="282" width="3" height="5" fill="#24c924" />
<rect x="503" y="283" width="1" height="3" fill="#32cd32" />
<rect x="507" y="282" width="1" height="22" fill="#24c924" />
<rect x="506" y="286" width="3" height="16" fill="#24c924" />
<rect x="507" y="287" width="1" height="14" fill="#32cd32" />
<rect x="511" y="292" width="1" height="15" fill="#ff0000" />
<rect x="510" y="299" width="3" height="2" fill="#ff0000" />
<rect x="515" y="290" width="1" height="31" fill="#ff0000" />
<rect x="514" y="297" width="3" height="3" fill="#ff0000" />
<rect x="515" y="298" width="1" height="1" fill="#ff4500" />
<rect x="519" y="278" width="1" height="36" fill="#ff0000" />
<rect x="518" y="290" width="3" height="8" fill="#ff0000" />
<rect x="519" y="291" width="1" height="6" fill="#ff4500" />
<rect x="523" y="272" width="1" height="20" fill="#ff0000" />
<rect x="522" y="286" width="3" height="5" fill="#ff0000" />
<rect x="523" y="287" width="1" height="3" fill="#ff4500" />
<rect x="527" y="259" width="1" height="30" fill="#ff0000" />
<rect x="526" y="271" width="3" height="16" fill="#ff0000" />
<rect x="527" y="272" width="1" height="14" fill="#ff4500" />
<rect x="531" y="263" width="1" height="13" fill="#24c924" />
<rect x="530" y="270" width="3" height="4" fill="#24c924" />
<rect x="531" y="271" width="1" height="2" fill="#32cd32" />
<rect x="535" y="268" width="1" height="24" fill="#24c924" />
<rect x="534" y="273" width="3" height="9" fill="#24c924" />
<rect x="535" y="274" width="1" height="7" fill="#32cd32" />
<rect x="539" y="262" width="1" height="26" fill="#ff0000" />
<rect x="538" y="263" width="3" height="20" fill="#ff0000" />
<rect x="539" y="264" width="1" height="18" fill="#ff4500" />
<rect x="543" y="261" width="1" height="37" fill="#24c924" />
<rect x="542" y="263" width="3" height="4" fill="#24c924" />
<rect x="543" y="264" width="1" height="2" fill="#32cd32" />
<rect x="547" y="263" width="1" height="24" fill="#ff0000" />
<rect x="546" y="264" width="3" height="3" fill="#ff0000" />
<rect x="547" y="265" width="1" height="1" fill="#ff4500" />
<rect x="551" y="259" width="1" height="24" fill="#24c924" />
<rect x="550" y="264" width="3" height="13" fill="#24c924" />
<rect x="551" y="265" width="1" height="11" fill="#32cd32" />
<rect x="555" y="271" width="1" height="15" fill="#24c924" />
<rect x="554" y="276" width="3" height="7" fill="#24c924" />
<rect x="555" y="277" width="1" height="5" fill="#32cd32" />
<rect x="559" y="276" width="1" height="16" fill="#24c924" />
<rect x="558" y="282" width="3" height="5" fill="#24c924" />
<rect x="559" y="283" width="1" height="3" fill="#32cd32" />
<rect x="563" y="275" width="1" height="31" fill="#ff0000" />
<rect x="562" y="278" width="3" height="9" fill="#ff0000" />
<rect x="563" y="279" width="1" height="7" fill="#ff4500" />
<rect x="567" y="262" width="1" height="23" fill="#ff0000" />
<rect x="566" y="271" width="3" height="8" fill="#ff0000" />
<rect x="567" y="272" width="1" height="6" fill="#ff4500" />
<rect x="571" y="264" width="1" height="12" fill="#24c924" />
<rect x="570" y="271" width="3" height="2" fill="#24c924" />
<rect x="575" y="262" width="1" height="24" fill="#24c924" />
<rect x="574" y="272" width="3" height="9" fill="#24c924" />
<rect x="575" y="273" width="1" height="7" fill="#32cd32" />
<rect x="579" y="267" width="1" height="19" fill="#24c924" />
<rect x="578" y="280" width="3" height="2" fill="#24c924" />
<rect x="583" y="276" width="1" height="13" fill="#ff0000" />
<rect x="582" y="277" width="3" height="5" fill="#ff0000" />
<rect x="583" y="278" width="1" height="3" fill="#ff4500" />
<rect x="587" y="242" width="1" height="47" fill="#ff0000" />
<rect x="586" y="245" width="3" height="34" fill="#ff0000" />
<rect x="587" y="246" width="1" height="32" fill="#ff4500" />
<rect x="591" y="232" width="1" height="29" fill="#ff0000" />
<rect x="590" y="242" width="3" height="3" fill="#ff0000" />
<rect x="591" y="243" width="1" height="1" fill="#ff4500" />
<rect x="595" y="238" width="1" height="18" fill="#ff0000" />
<rect x="594" y="238" width="3" height="4" fill="#ff0000" />
<rect x="595" y="239" width="1" height="2" fill="#ff4500" />
<rect x="599" y="232" width="1" height="12" fill="#24c924" />
<rect x="598" y="238" width="3" height="2" fill="#24c924" />
<rect x="603" y="227" width="1" height="21" fill="#ff0000" />
<rect x="602" y="227" width="3" height="19" fill="#ff0000" />
<rect x="603" y="228" width="1" height="17" fill="#ff4500" />
<rect x="607" y="227" width="1" height="23" fill="#24c924" />
<rect x="606" y="227" width="3" height="19" fill="#24c924" />
<rect x="607" y="228" width="1" height="17" fill="#32cd32" />
<rect x="611" y="240" width="1" height="24" fill="#24c924" />
<rect x="610" y="246" width="3" height="2" fill="#24c924" />
<rect x="615" y="222" width="1" height="32" fill="#ff0000" />
<rect x="614" y="222" width="3" height="26" fill="#ff0000" />
<rect x="615" y="223" width="1" height="24" fill="#ff4500" />
<rect x="619" y="215" width="1" height="11" fill="#ff0000" />
<rect x="618" y="222" width="3" height="2" fill="#ff0000" />
<rect x="623" y="217" width="1" height="20" fill="#ff0000" />
<rect x="622" y="218" width="3" height="4" fill="#ff0000" />
<rect x="623" y="219" width="1" height="2" fill="#ff4500" />
<rect x="627" y="218" width="1" height="21" fill="#24c924" />
<rect x="626" y="219" width="3" height="8" fill="#24c924" />
<rect x="627" y="220" width="1" height="6" fill="#32cd32" />
<rect x="631" y="220" width="1" height="19" fill="#ff0000" />
<rect x="630" y="224" width="3" height="2" fill="#ff0000" />
<rect x="635" y="203" width="1" height="26" fill="#ff0000" />
<rect x="634" y="211" width="3" height="14" fill="#ff0000" />
<rect x="635" y="212" width="1" height="12" fill="#ff4500" />
<rect x="639" y="210" width="1" height="28" fill="#24c924" />
<rect x="638" y="211" width="3" height="4" fill="#24c924" />
<rect x="639" y="212" width="1" height="2" fill="#32cd32" />
<rect x="643" y="211" width="1" height="17" fill="#24c924" />
<rect x="642" y="214" width="3" height="6" fill="#24c924" />
<rect x="643" y="215" width="1" height="4" fill="#32cd32" />
<rect x="647" y="206" width="1" height="27" fill="#24c924" />
<rect x="646" y="220" width="3" height="5" fill="#24c924" />
<rect x="647" y="221" width="1" height="3" fill="#32cd32" />
<rect x="651" y="215" width="1" height="15" fill="#ff0000" />
<rect x="650" y="217" width="3" height="9" fill="#ff0000" />
<rect x="651" y="218" width="1" height="7" fill="#ff4500" />
<rect x="655" y="213" width="1" height="10" fill="#24c924" />
<rect x="654" y="217" width="3" height="6" fill="#24c924" />
<rect x="655" y="218" width="1" height="4" fill="#32cd32" />
<rect x="659" y="204" width="1" height="25" fill="#24c924" />
<rect x="658" y="223" width="3" height="5" fill="#24c924" />
<rect x="659" y="224" width="1" height="3" fill="#32cd32" />
<rect x="663" y="212" width="1" height="21" fill="#ff0000" />
<rect x="662" y="218" width="3" height="10" fill="#ff0000" />
<rect x="663" y="219" width="1" height="8" fill="#ff4500" />
<rect x="667" y="200" width="1" height="20" fill="#ff0000" />
<rect x="666" y="203" width="3" height="16" fill="#ff0000" />
<rect x="667" y="204" width="1" height="14" fill="#ff4500" />
<rect x="671" y="202" width="1" height="99" fill="#24c924" />
<rect x="670" y="202" width="3" height="92" fill="#24c924" />
<rect x="671" y="203" width="1" height="90" fill="#32cd32" />
<rect x="675" y="285" width="1" height="14" fill="#24c924" />
<rect x="674" y="294" width="3" height="3" fill="#24c924" />
<rect x="675" y="295" width="1" height="1" fill="#32cd32" />
<rect x="679" y="295" width="1" height="16" fill="#ff0000" />
<rect x="678" y="295" width="3" height="2" fill="#ff0000" />
<rect x="683" y="254" width="1" height="54" fill="#ff0000" />
<rect x="682" y="254" width="3" height="43" fill="#ff0000" />
<rect x="683" y="255" width="1" height="41" fill="#ff4500" />
<rect x="687" y="240" width="1" height="44" fill="#24c924" />
<rect x="686" y="254" width="3" height="3" fill="#24c924" />
<rect x="687" y="255" width="1" height="1" fill="#32cd32" />
<rect x="691" y="239" width="1" height="20" fill="#24c924" />
<rect x="690" y="256" width="3" height="2" fill="#24c924" />
<rect x="695" y="236" width="1" height="27" fill="#ff0000" />
<rect x="694" y="252" width="3" height="5" fill="#ff0000" />
<rect x="695" y="253" width="1" height="3" fill="#ff4500" />
<rect x="699" y="248" width="1" height="25" fill="#24c924" />
<rect x="698" y="252" width="3" height="9" fill="#24c924" />
<rect x="699" y="253" width="1" height="7" fill="#32cd32" />
<rect x="703" y="244" width="1" height="19" fill="#ff0000" />
<rect x="702" y="248" width="3" height="13" fill="#ff0000" />
<rect x="703" y="249" width="1" height="11" fill="#ff4500" />
<rect x="707" y="244" width="1" height="25" fill="#ff0000" />
<rect x="706" y="246" width="3" height="3" fill="#ff0000" />
<rect x="707" y="247" width="1" height="1" fill="#ff4500" />
<rect x="711" y="212" width="1" height="36" fill="#ff0000" />
<rect x="710" y="218" width="3" height="28" fill="#ff0000" />
<rect x="711" y="219" width="1" height="26" fill="#ff4500" />
<rect x="715" y="202" width="1" height="27" fill="#24c924" />
<rect x="714" y="217" width="3" height="1" fill="#24c924" />
<rect x="719" y="207" width="1" height="22" fill="#ff0000" />
<rect x="718" y="211" width="3" height="9" fill="#ff0000" />
<rect x="719" y="212" width="1" height="7" fill="#ff4500" />
<rect x="723" y="213" width="1" height="26" fill="#24c924" />
<rect x="722" y="216" width="3" height="21" fill="#24c924" />
<rect x="723" y="217" width="1" height="19" fill="#32cd32" />
<rect x="727" y="230" width="1" height="16" fill="#ff0000" />
<rect x="726" y="235" width="3" height="1" fill="#ff0000" />
<rect x="731" y="219" width="1" height="33" fill="#ff0000" />
<rect x="730" y="220" width="3" height="16" fill="#ff0000" />
<rect x="731" y="221" width="1" height="14" fill="#ff4500" />
<rect x="735" y="212" width="1" height="33" fill="#24c924" />
<rect x="734" y="220" width="3" height="20" fill="#24c924" />
<rect x="735" y="221" width="1" height="18" fill="#32cd32" />
<rect x="739" y="228" width="1" height="24" fill="#ff0000" />
<rect x="738" y="229" width="3" height="8" fill="#ff0000" />
<rect x="739" y="230" width="1" height="6" fill="#ff4500" />
<rect x="743" y="219" width="1" height="25" fill="#ff0000" />
<rect x="742" y="221" width="3" height="9" fill="#ff0000" />
<rect x="743" y="222" width="1" height="7" fill="#ff4500" />
<rect x="747" y="220" width="1" height="31" fill="#24c924" />
<rect x="746" y="221" width="3" height="29" fill="#24c924" />
<rect x="747" y="222" width="1" height="27" fill="#32cd32" />
<rect x="751" y="246" width="1" height="15" fill="#24c924" />
<rect x="750" y="250" width="3" height="8" fill="#24c924" />
<rect x="751" y="251" width="1" height="6" fill="#32cd32" />
<rect x="755" y="252" width="1" height="43" fill="#24c924" />
<rect x="754" y="257" width="3" height="22" fill="#24c924" />
<rect x="755" y="258" width="1" height="20" fill="#32cd32" />
<rect x="759" y="254" width="1" height="34" fill="#ff0000" />
<rect x="758" y="262" width="3" height="17" fill="#ff0000" />
<rect x="759" y="263" width="1" height="15" fill="#ff4500" />
<rect x="763" y="240" width="1" height="26" fill="#ff0000" />
<rect x="762" y="241" width="3" height="23" fill="#ff0000" />
<rect x="763" y="242" width="1" height="21" fill="#ff4500" />
<rect x="767" y="219" width="1" height="28" fill="#ff0000" />
<rect x="766" y="239" width="3" height="4" fill="#ff0000" />
<rect x="767" y="240" width="1" height="2" fill="#ff4500" />
<rect x="771" y="217" width="1" height="24" fill="#ff0000" />
<rect x="770" y="217" width="3" height="23" fill="#ff0000" />
<rect x="771" y="218" width="1" height="21" fill="#ff4500" />
<rect x="775" y="201" width="1" height="20" fill="#ff0000" />
<rect x="774" y="215" width="3" height="3" fill="#ff0000" />
<rect x="775" y="216" width="1" height="1" fill="#ff4500" />
<rect x="779" y="206" width="1" height="31" fill="#24c924" />
<rect x="778" y="215" width="3" height="17" fill="#24c924" />
<rect x="779" y="216" width="1" height="15" fill="#32cd32" />
<rect x="783" y="208" width="1" height="37" fill="#ff0000" />
<rect x="782" y="209" width="3" height="22" fill="#ff0000" />
<rect x="783" y="210" width="1" height="20" fill="#ff4500" />
<rect x="787" y="197" width="1" height="32" fill="#24c924" />
<rect x="786" y="209" width="3" height="20" fill="#24c924" />
<rect x="787" y="210" width="1" height="18" fill="#32cd32" />
<rect x="791" y="226" width="1" height="17" fill="#24c924" />
<rect x="790" y="228" width="3" height="8" fill="#24c924" />
<rect x="791" y="229" width="1" height="6" fill="#32cd32" />
<rect x="795" y="233" width="1" height="20" fill="#24c924" />
<rect x="794" y="235" width="3" height="14" fill="#24c924" />
<rect x="795" y="236" width="1" height="12" fill="#32cd32" />
<rect x="799" y="237" width="1" height="24" fill="#ff0000" />
<rect x="798" y="241" width="3" height="6" fill="#ff0000" />
<rect x="799" y="242" width="1" height="4" fill="#ff4500" />
<rect x="803" y="220" width="1" height="27" fill="#ff0000" />
<rect x="802" y="230" width="3" height="11" fill="#ff0000" />
<rect x="803" y="231" width="1" height="9" fill="#ff4500" />
<rect x="807" y="229" width="1" height="97" fill="#24c924" />
<rect x="806" y="230" width="3" height="93" fill="#24c924" />
<rect x="807" y="231" width="1" height="91" fill="#32cd32" />
<rect x="811" y="306" width="1" height="33" fill="#ff0000" />
<rect x="810" y="307" width="3" height="15" fill="#ff0000" />
<rect x="811" y="308" width="1" height="13" fill="#ff4500" />
<rect x="815" y="288" width="1" height="25" fill="#ff0000" />
<rect x="814" y="292" width="3" height="17" fill="#ff0000" />
<rect x="815" y="293" width="1" height="15" fill="#ff4500" />
<rect x="819" y="284" width="1" height="22" fill="#24c924" />
<rect x="818" y="292" width="3" height="7" fill="#24c924" />
<rect x="819" y="293" width="1" height="5" fill="#32cd32" />
<rect x="823" y="294" width="1" height="12" fill="#24c924" />
<rect x="822" y="298" width="3" height="2" fill="#24c924" />
<rect x="827" y="278" width="1" height="24" fill="#ff0000" />
<rect x="826" y="284" width="3" height="16" fill="#ff0000" />
<rect x="827" y="285" width="1" height="14" fill="#ff4500" />
<rect x="831" y="282" width="1" height="44" fill="#24c924" />
<rect x="830" y="284" width="3" height="18" fill="#24c924" />
<rect x="831" y="285" width="1" height="16" fill="#32cd32" />
<rect x="835" y="294" width="1" height="19" fill="#24c924" />
<rect x="834" y="302" width="3" height="7" fill="#24c924" />
<rect x="835" y="303" width="1" height="5" fill="#32cd32" />
<rect x="839" y="303" width="1" height="42" fill="#24c924" />
<rect x="838" y="308" width="3" height="34" fill="#24c924" />
<rect x="839" y="309" width="1" height="32" fill="#32cd32" />
<rect x="843" y="321" width="1" height="48" fill="#24c924" />
<rect x="842" y="328" width="3" height="35" fill="#24c924" />
<rect x="843" y="329" width="1" height="33" fill="#32cd32" />
<rect x="847" y="348" width="1" height="16" fill="#ff0000" />
<rect x="846" y="349" width="3" height="14" fill="#ff0000" />
<rect x="847" y="350" width="1" height="12" fill="#ff4500" />
<rect x="851" y="329" width="1" height="27" fill="#ff0000" />
<rect x="850" y="333" width="3" height="17" fill="#ff0000" />
<rect x="851" y="334" width="1" height="15" fill="#ff4500" />
<rect x="855" y="324" width="1" height="33" fill="#24c924" />
<rect x="854" y="333" width="3" height="13" fill="#24c924" />
<rect x="855" y="334" width="1" height="11" fill="#32cd32" />
<rect x="859" y="336" width="1" height="36" fill="#ff0000" />
<rect x="858" y="342" width="3" height="4" fill="#ff0000" />
<rect x="859" y="343" width="1" height="2" fill="#ff4500" />
<rect x="863" y="326" width="1" height="27" fill="#ff0000" />
<rect x="862" y="335" width="3" height="8" fill="#ff0000" />
<rect x="863" y="336" width="1" height="6" fill="#ff4500" />
<rect x="867" y="327" width="1" height="23" fill="#24c924" />
<rect x="866" y="335" width="3" height="10" fill="#24c924" />
<rect x="867" y="336" width="1" height="8" fill="#32cd32" />
<rect x="871" y="339" width="1" height="14" fill="#ff0000" />
<rect x="870" y="343" width="3" height="2" fill="#ff0000" />
<rect x="875" y="339" width="1" height="39" fill="#24c924" />
<rect x="874" y="344" width="3" height="21" fill="#24c924" />
<rect x="875" y="345" width="1" height="19" fill="#32cd32" />
<rect x="879" y="318" width="1" height="49" fill="#ff0000" />
<rect x="878" y="326" width="3" height="39" fill="#ff0000" />
<rect x="879" y="327" width="1" height="37" fill="#ff4500" />
<rect x="883" y="305" width="1" height="25" fill="#ff0000" />
<rect x="882" y="305" width="3" height="23" fill="#ff0000" />
<rect x="883" y="306" width="1" height="21" fill="#ff4500" />
<rect x="887" y="284" width="1" height="26" fill="#ff0000" />
<rect x="886" y="297" width="3" height="9" fill="#ff0000" />
<rect x="887" y="298" width="1" height="7" fill="#ff4500" />
<rect x="891" y="290" width="1" height="15" fill="#24c924" />
<rect x="890" y="297" width="3" height="2" fill="#24c924" />
<rect x="895" y="292" width="1" height="16" fill="#ff0000" />
<rect x="894" y="293" width="3" height="7" fill="#ff0000" />
<rect x="895" y="294" width="1" height="5" fill="#ff4500" />
<rect x="899" y="279" width="1" height="25" fill="#ff0000" />
<rect x="898" y="279" width="3" height="15" fill="#ff0000" />
<rect x="899" y="280" width="1" height="13" fill="#ff4500" />
<rect x="903" y="250" width="1" height="50" fill="#24c924" />
<rect x="902" y="279" width="3" height="13" fill="#24c924" />
<rect x="903" y="280" width="1" height="11" fill="#32cd32" />
<rect x="907" y="289" width="1" height="24" fill="#24c924" />
<rect x="906" y="293" width="3" height="11" fill="#24c924" />
<rect x="907" y="294" width="1" height="9" fill="#32cd32" />
<rect x="911" y="292" width="1" height="24" fill="#ff0000" />
<rect x="910" y="296" width="3" height="8" fill="#ff0000" />
<rect x="911" y="297" width="1" height="6" fill="#ff4500" />
<rect x="915" y="283" width="1" height="23" fill="#ff0000" />
<rect x="914" y="285" width="3" height="11" fill="#ff0000" />
<rect x="915" y="286" width="1" height="9" fill="#ff4500" />
<rect x="919" y="280" width="1" height="12" fill="#24c924" />
<rect x="918" y="285" width="3" height="3" fill="#24c924" />
<rect x="919" y="286" width="1" height="1" fill="#32cd32" />
<rect x="923" y="286" width="1" height="28" fill="#24c924" />
<rect x="922" y="287" width="3" height="17" fill="#24c924" />
<rect x="923" y="288" width="1" height="15" fill="#32cd32" />
<rect x="927" y="277" width="1" height="40" fill="#ff0000" />
<rect x="926" y="286" width="3" height="18" fill="#ff0000" />
<rect x="927" y="287" width="1" height="16" fill="#ff4500" />
<rect x="931" y="264" width="1" height="26" fill="#24c924" />
<rect x="930" y="286" width="3" height="2" fill="#24c924" />
<rect x="935" y="278" width="1" height="16" fill="#24c924" />
<rect x="934" y="287" width="3" height="4" fill="#24c924" />
<rect x="935" y="288" width="1" height="2" fill="#32cd32" />
<rect x="939" y="280" width="1" height="20" fill="#ff0000" />
<rect x="938" y="281" width="3" height="11" fill="#ff0000" />
<rect x="939" y="282" width="1" height="9" fill="#ff4500" />
<rect x="943" y="269" width="1" height="15" fill="#ff0000" />
<rect x="942" y="274" width="3" height="9" fill="#ff0000" />
<rect x="943" y="275" width="1" height="7" fill="#ff4500" />
<rect x="947" y="237" width="1" height="47" fill="#ff0000" />
<rect x="946" y="250" width="3" height="24" fill="#ff0000" />
<rect x="947" y="251" width="1" height="22" fill="#ff4500" />
<rect x="951" y="228" width="1" height="29" fill="#ff0000" />
<rect x="950" y="237" width="3" height="14" fill="#ff0000" />
<rect x="951" y="238" width="1" height="12" fill="#ff4500" />
<rect x="955" y="232" width="1" height="20" fill="#24c924" />
<rect x="954" y="237" width="3" height="15" fill="#24c924" />
<rect x="955" y="238" width="1" height="13" fill="#32cd32" />
<rect x="959" y="233" width="1" height="21" fill="#ff0000" />
<rect x="958" y="233" width="3" height="18" fill="#ff0000" />
<rect x="959" y="234" width="1" height="16" fill="#ff4500" />
<rect x="963" y="230" width="1" height="18" fill="#ff0000" />
<rect x="962" y="236" width="3" height="8" fill="#ff0000" />
<rect x="963" y="237" width="1" height="6" fill="#ff4500" />
<rect x="967" y="230" width="1" height="13" fill="#24c924" />
<rect x="966" y="236" width="3" height="2" fill="#24c924" />
<rect x="971" y="236" width="1" height="34" fill="#24c924" />
<rect x="970" y="239" width="3" height="27" fill="#24c924" />
<rect x="971" y="240" width="1" height="25" fill="#32cd32" />
<rect x="975" y="266" width="1" height="45" fill="#24c924" />
<rect x="974" y="266" width="3" height="35" fill="#24c924" />
<rect x="975" y="267" width="1" height="33" fill="#32cd32" />
<rect x="979" y="274" width="1" height="29" fill="#ff0000" />
<rect x="978" y="277" width="3" height="24" fill="#ff0000" />
<rect x="979" y="278" width="1" height="22" fill="#ff4500" />
<rect x="983" y="275" width="1" height="31" fill="#24c924" />
<rect x="982" y="277" width="3" height="24" fill="#24c924" />
<rect x="983" y="278" width="1" height="22" fill="#32cd32" />
<rect x="987" y="289" width="1" height="17" fill="#ff0000" />
<rect x="986" y="299" width="3" height="1" fill="#ff0000" />
<rect x="991" y="287" width="1" height="20" fill="#ff0000" />
<rect x="990" y="288" width="3" height="13" fill="#ff0000" />
<rect x="991" y="289" width="1" height="11" fill="#ff4500" />
<rect x="995" y="287" width="1" height="34" fill="#24c924" />
<rect x="994" y="288" width="3" height="32" fill="#24c924" />
<rect x="995" y="289" width="1" height="30" fill="#32cd32" />
<rect x="999" y="301" width="1" height="32" fill="#ff0000" />
<rect x="998" y="301" width="3" height="18" fill="#ff0000" />
<rect x="999" y="302" width="1" height="16" fill="#ff4500" />
<rect x="1003" y="295" width="1" height="14" fill="#ff0000" />
<rect x="1002" y="297" width="3" height="6" fill="#ff0000" />
<rect x="1003" y="298" width="1" height="4" fill="#ff4500" />
<rect x="1007" y="285" width="1" height="22" fill="#24c924" />
<rect x="1006" y="297" width="3" height="2" fill="#24c924" />
<rect x="1011" y="293" width="1" height="20" fill="#24c924" />
<rect x="1010" y="298" width="3" height="13" fill="#24c924" />
<rect x="1011" y="299" width="1" height="11" fill="#32cd32" />
<rect x="1015" y="299" width="1" height="12" fill="#ff0000" />
<rect x="1014" y="302" width="3" height="9" fill="#ff0000" />
<rect x="1015" y="303" width="1" height="7" fill="#ff4500" />
<rect x="1019" y="288" width="1" height="29" fill="#ff0000" />
<rect x="1018" y="294" width="3" height="7" fill="#ff0000" />
<rect x="1019" y="295" width="1" height="5" fill="#ff4500" />
<rect x="1023" y="279" width="1" height="38" fill="#24c924" />
<rect x="1022" y="295" width="3" height="21" fill="#24c924" />
<rect x="1023" y="296" width="1" height="19" fill="#32cd32" />
<rect x="1027" y="295" width="1" height="30" fill="#ff0000" />
<rect x="1026" y="295" width="3" height="21" fill="#ff0000" />
<rect x="1027" y="296" width="1" height="19" fill="#ff4500" />
<rect x="1031" y="274" width="1" height="49" fill="#ff0000" />
<rect x="1030" y="279" width="3" height="18" fill="#ff0000" />
<rect x="1031" y="280" width="1" height="16" fill="#ff4500" />
<rect x="1035" y="263" width="1" height="26" fill="#24c924" />
<rect x="1034" y="279" width="3" height="1" fill="#24c924" />
<rect x="800" y="225" width="333" height="2" fill="#ff0000" />
<rect x="751" y="275" width="382" height="2" fill="#00ff00" />
<rect x="884" y="326" width="256" height="2" fill="#0000ff" />
</g>
<g clip-path="url(#cd)" shape-rendering="crispEdges">
<rect x="3" y="414" width="1" height="39" fill="#c0c0c0" />
<rect x="7" y="414" width="1" height="39" fill="#c0c0c0" />
<rect x="11" y="414" width="1" height="39" fill="#c0c0c0" />
<rect x="15" y="415" width="1" height="38" fill="#c0c0c0" />
<rect x="19" y="417" width="1" height="36" fill="#c0c0c0" />
<rect x="23" y="420" width="1" height="33" fill="#c0c0c0" />
<rect x="27" y="422" width="1" height="31" fill="#c0c0c0" />
<rect x="31" y="424" width="1" height="29" fill="#c0c0c0" />
<rect x="35" y="430" width="1" height="23" fill="#c0c0c0" />
<rect x="39" y="434" width="1" height="19" fill="#c0c0c0" />
<rect x="43" y="438" width="1" height="15" fill="#c0c0c0" />
<rect x="47" y="440" width="1" height="13" fill="#c0c0c0" />
<rect x="51" y="441" width="1" height="12" fill="#c0c0c0" />
<rect x="55" y="442" width="1" height="11" fill="#c0c0c0" />
<rect x="59" y="440" width="1" height="13" fill="#c0c0c0" />
<rect x="63" y="438" width="1" height="15" fill="#c0c0c0" />
<rect x="67" y="435" width="1" height="18" fill="#c0c0c0" />
<rect x="71" y="435" width="1" height="18" fill="#c0c0c0" />
<rect x="75" y="437" width="1" height="16" fill="#c0c0c0" />
<rect x="79" y="440" width="1" height="13" fill="#c0c0c0" />
<rect x="83" y="437" width="1" height="16" fill="#c0c0c0" />
<rect x="87" y="429" width="1" height="24" fill="#c0c0c0" />
<rect x="91" y="424" width="1" height="29" fill="#c0c0c0" />
<rect x="95" y="422" width="1" height="31" fill="#c0c0c0" />
<rect x="99" y="420" width="1" height="33" fill="#c0c0c0" />
<rect x="103" y="419" width="1" height="34" fill="#c0c0c0" />
<rect x="107" y="418" width="1" height="35" fill="#c0c0c0" />
<rect x="111" y="417" width="1" height="36" fill="#c0c0c0" />
<rect x="115" y="422" width="1" height="31" fill="#c0c0c0" />
<rect x="119" y="429" width="1" height="24" fill="#c0c0c0" />
<rect x="123" y="431" width="1" height="22" fill="#c0c0c0" />
<rect x="127" y="433" width="1" height="20" fill="#c0c0c0" />
<rect x="131" y="432" width="1" height="21" fill="#c0c0c0" />
<rect x="135" y="432" width="1" height="21" fill="#c0c0c0" />
<rect x="139" y="430" width="1" height="23" fill="#c0c0c0" />
<rect x="143" y="427" width="1" height="26" fill="#c0c0c0" />
<rect x="147" y="424" width="1" height="29" fill="#c0c0c0" />
<rect x="151" y="423" width="1" height="30" fill="#c0c0c0" />
<rect x="155" y="421" width="1" height="32" fill="#c0c0c0" />
<rect x="159" y="419" width="1" height="34" fill="#c0c0c0" />
<rect x="163" y="414" width="1" height="39" fill="#c0c0c0" />
<rect x="167" y="410" width="1" height="43" fill="#c0c0c0" />
<rect x="171" y="407" width="1" height="46" fill="#c0c0c0" />
<rect x="175" y="405" width="1" height="48" fill="#c0c0c0" />
<rect x="179" y="403" width="1" height="50" fill="#c0c0c0" />
<rect x="183" y="401" width="1" height="52" fill="#c0c0c0" />
<rect x="187" y="401" width="1" height="52" fill="#c0c0c0" />
<rect x="191" y="399" width="1" height="54" fill="#c0c0c0" />
<rect x="195" y="398" width="1" height="55" fill="#c0c0c0" />
<rect x="199" y="399" width="1" height="54" fill="#c0c0c0" />
<rect x="203" y="406" width="1" height="47" fill="#c0c0c0" />
<rect x="207" y="412" width="1" height="41" fill="#c0c0c0" />
<rect x="211" y="417" width="1" height="36" fill="#c0c0c0" />
<rect x="215" y="425" width="1" height="28" fill="#c0c0c0" />
<rect x="219" y="430" width="1" height="23" fill="#c0c0c0" />
<rect x="223" y="437" width="1" height="16" fill="#c0c0c0" />
<rect x="227" y="446" width="1" height="7" fill="#c0c0c0" />
<rect x="231" y="451" width="1" height="2" fill="#c0c0c0" />
<rect x="235" y="449" width="1" height="4" fill="#c0c0c0" />
<rect x="239" y="445" width="1" height="8" fill="#c0c0c0" />
<rect x="243" y="443" width="1" height="10" fill="#c0c0c0" />
<rect x="247" y="442" width="1" height="11" fill="#c0c0c0" />
<rect x="251" y="440" width="1" height="13" fill="#c0c0c0" />
<rect x="255" y="440" width="1" height="13" fill="#c0c0c0" />
<rect x="259" y="437" width="1" height="16" fill="#c0c0c0" />
<rect x="263" y="439" width="1" height="14" fill="#c0c0c0" />
<rect x="267" y="438" width="1" height="15" fill="#c0c0c0" />
<rect x="271" y="439" width="1" height="14" fill="#c0c0c0" />
<rect x="275" y="439" width="1" height="14" fill="#c0c0c0" />
<rect x="279" y="441" width="1" height="12" fill="#c0c0c0" />
<rect x="283" y="442" width="1" height="11" fill="#c0c0c0" />
<rect x="287" y="444" width="1" height="9" fill="#c0c0c0" />
<rect x="291" y="450" width="1" height="3" fill="#c0c0c0" />
<rect x="295" y="452" width="1" height="3" fill="#c0c0c0" />
<rect x="299" y="452" width="1" height="18" fill="#c0c0c0" />
<rect x="303" y="452" width="1" height="25" fill="#c0c0c0" />
<rect x="307" y="452" width="1" height="27" fill="#c0c0c0" />
<rect x="311" y="452" width="1" height="26" fill="#c0c0c0" />
<rect x="315" y="452" width="1" height="21" fill="#c0c0c0" />
<rect x="319" y="452" width="1" height="19" fill="#c0c0c0" />
<rect x="323" y="452" width="1" height="15" fill="#c0c0c0" />
<rect x="327" y="452" width="1" height="12" fill="#c0c0c0" />
<rect x="331" y="452" width="1" height="9" fill="#c0c0c0" />
<rect x="335" y="449" width="1" height="4" fill="#c0c0c0" />
<rect x="339" y="441" width="1" height="12" fill="#c0c0c0" />
<rect x="343" y="433" width="1" height="20" fill="#c0c0c0" />
<rect x="347" y="431" width="1" height="22" fill="#c0c0c0" />
<rect x="351" y="428" width="1" height="25" fill="#c0c0c0" />
<rect x="355" y="429" width="1" height="24" fill="#c0c0c0" />
<rect x="359" y="428" width="1" height="25" fill="#c0c0c0" />
<rect x="363" y="428" width="1" height="25" fill="#c0c0c0" />
<rect x="367" y="422" width="1" height="31" fill="#c0c0c0" />
<rect x="371" y="416" width="1" height="37" fill="#c0c0c0" />
<rect x="375" y="412" width="1" height="41" fill="#c0c0c0" />
<rect x="379" y="410" width="1" height="43" fill="#c0c0c0" />
<rect x="383" y="408" width="1" height="45" fill="#c0c0c0" />
<rect x="387" y="406" width="1" height="47" fill="#c0c0c0" />
<rect x="391" y="406" width="1" height="47" fill="#c0c0c0" />
<rect x="395" y="403" width="1" height="50" fill="#c0c0c0" />
<rect x="399" y="404" width="1" height="49" fill="#c0c0c0" />
<rect x="403" y="408" width="1" height="45" fill="#c0c0c0" />
<rect x="407" y="412" width="1" height="41" fill="#c0c0c0" />
<rect x="411" y="419" width="1" height="34" fill="#c0c0c0" />
<rect x="415" y="425" width="1" height="28" fill="#c0c0c0" />
<rect x="419" y="423" width="1" height="30" fill="#c0c0c0" />
<rect x="423" y="428" width="1" height="25" fill="#c0c0c0" />
<rect x="427" y="431" width="1" height="22" fill="#c0c0c0" />
<rect x="431" y="440" width="1" height="13" fill="#c0c0c0" />
<rect x="435" y="443" width="1" height="10" fill="#c0c0c0" />
<rect x="439" y="448" width="1" height="5" fill="#c0c0c0" />
<rect x="443" y="450" width="1" height="3" fill="#c0c0c0" />
<rect x="447" y="452" width="1" height="2" fill="#c0c0c0" />
<rect x="451" y="452" width="1" height="4" fill="#c0c0c0" />
<rect x="455" y="452" width="1" height="5" fill="#c0c0c0" />
<rect x="459" y="452" width="1" height="5" fill="#c0c0c0" />
<rect x="463" y="452" width="1" height="6" fill="#c0c0c0" />
<rect x="467" y="452" width="1" height="3" fill="#c0c0c0" />
<rect x="471" y="452" width="1" height="12" fill="#c0c0c0" />
<rect x="475" y="452" width="1" height="18" fill="#c0c0c0" />
<rect x="479" y="452" width="1" height="28" fill="#c0c0c0" />
<rect x="483" y="452" width="1" height="35" fill="#c0c0c0" />
<rect x="487" y="452" width="1" height="40" fill="#c0c0c0" />
<rect x="491" y="452" width="1" height="49" fill="#c0c0c0" />
<rect x="495" y="452" width="1" height="58" fill="#c0c0c0" />
<rect x="499" y="452" width="1" height="68" fill="#c0c0c0" />
<rect x="503" y="452" width="1" height="76" fill="#c0c0c0" />
<rect x="507" y="452" width="1" height="84" fill="#c0c0c0" />
<rect x="511" y="452" width="1" height="89" fill="#c0c0c0" />
<rect x="515" y="452" width="1" height="91" fill="#c0c0c0" />
<rect x="519" y="452" width="1" height="91" fill="#c0c0c0" />
<rect x="523" y="452" width="1" height="89" fill="#c0c0c0" />
<rect x="527" y="452" width="1" height="84" fill="#c0c0c0" />
<rect x="531" y="452" width="1" height="80" fill="#c0c0c0" />
<rect x="535" y="452" width="1" height="77" fill="#c0c0c0" />
<rect x="539" y="452" width="1" height="70" fill="#c0c0c0" />
<rect x="543" y="452" width="1" height="65" fill="#c0c0c0" />
<rect x="547" y="452" width="1" height="60" fill="#c0c0c0" />
<rect x="551" y="452" width="1" height="58" fill="#c0c0c0" />
<rect x="555" y="452" width="1" height="56" fill="#c0c0c0" />
<rect x="559" y="452" width="1" height="54" fill="#c0c0c0" />
<rect x="563" y="452" width="1" height="51" fill="#c0c0c0" />
<rect x="567" y="452" width="1" height="47" fill="#c0c0c0" />
<rect x="571" y="452" width="1" height="44" fill="#c0c0c0" />
<rect x="575" y="452" width="1" height="42" fill="#c0c0c0" />
<rect x="579" y="452" width="1" height="40" fill="#c0c0c0" />
<rect x="583" y="452" width="1" height="37" fill="#c0c0c0" />
<rect x="587" y="452" width="1" height="30" fill="#c0c0c0" />
<rect x="591" y="452" width="1" height="23" fill="#c0c0c0" />
<rect x="595" y="452" width="1" height="17" fill="#c0c0c0" />
<rect x="599" y="452" width="1" height="12" fill="#c0c0c0" />
<rect x="603" y="452" width="1" height="6" fill="#c0c0c0" />
<rect x="607" y="452" width="1" height="5" fill="#c0c0c0" />
<rect x="611" y="452" width="1" height="4" fill="#c0c0c0" />
<rect x="615" y="450" width="1" height="3" fill="#c0c0c0" />
<rect x="619" y="446" width="1" height="7" fill="#c0c0c0" />
<rect x="623" y="442" width="1" height="11" fill="#c0c0c0" />
<rect x="627" y="441" width="1" height="12" fill="#c0c0c0" />
<rect x="631" y="440" width="1" height="13" fill="#c0c0c0" />
<rect x="635" y="437" width="1" height="16" fill="#c0c0c0" />
<rect x="639" y="435" width="1" height="18" fill="#c0c0c0" />
<rect x="643" y="435" width="1" height="18" fill="#c0c0c0" />
<rect x="647" y="436" width="1" height="17" fill="#c0c0c0" />
<rect x="651" y="435" width="1" height="18" fill="#c0c0c0" />
<rect x="655" y="436" width="1" height="17" fill="#c0c0c0" />
<rect x="659" y="438" width="1" height="15" fill="#c0c0c0" />
<rect x="663" y="438" width="1" height="15" fill="#c0c0c0" />
<rect x="667" y="435" width="1" height="18" fill="#c0c0c0" />
<rect x="671" y="448" width="1" height="5" fill="#c0c0c0" />
<rect x="675" y="452" width="1" height="7" fill="#c0c0c0" />
<rect x="679" y="452" width="1" height="15" fill="#c0c0c0" />
<rect x="683" y="452" width="1" height="15" fill="#c0c0c0" />
<rect x="687" y="452" width="1" height="15" fill="#c0c0c0" />
<rect x="691" y="452" width="1" height="15" fill="#c0c0c0" />
<rect x="695" y="452" width="1" height="14" fill="#c0c0c0" />
<rect x="699" y="452" width="1" height="14" fill="#c0c0c0" />
<rect x="703" y="452" width="1" height="12" fill="#c0c0c0" />
<rect x="707" y="452" width="1" height="10" fill="#c0c0c0" />
<rect x="711" y="452" width="1" height="4" fill="#c0c0c0" />
<rect x="715" y="450" width="1" height="3" fill="#c0c0c0" />
<rect x="719" y="446" width="1" height="7" fill="#c0c0c0" />
<rect x="723" y="446" width="1" height="7" fill="#c0c0c0" />
<rect x="727" y="446" width="1" height="7" fill="#c0c0c0" />
<rect x="731" y="444" width="1" height="9" fill="#c0c0c0" />
<rect x="735" y="445" width="1" height="8" fill="#c0c0c0" />
<rect x="739" y="445" width="1" height="8" fill="#c0c0c0" />
<rect x="743" y="443" width="1" height="10" fill="#c0c0c0" />
<rect x="747" y="447" width="1" height="6" fill="#c0c0c0" />
<rect x="751" y="451" width="1" height="2" fill="#c0c0c0" />
<rect x="755" y="452" width="1" height="6" fill="#c0c0c0" />
<rect x="759" y="452" width="1" height="8" fill="#c0c0c0" />
<rect x="763" y="452" width="1" height="7" fill="#c0c0c0" />
<rect x="767" y="452" width="1" height="5" fill="#c0c0c0" />
<rect x="771" y="452" width="1" height="1" fill="#c0c0c0" />
<rect x="775" y="448" width="1" height="5" fill="#c0c0c0" />
<rect x="779" y="447" width="1" height="6" fill="#c0c0c0" />
<rect x="783" y="443" width="1" height="10" fill="#c0c0c0" />
<rect x="787" y="443" width="1" height="10" fill="#c0c0c0" />
<rect x="791" y="444" width="1" height="9" fill="#c0c0c0" />
<rect x="795" y="448" width="1" height="5" fill="#c0c0c0" />
<rect x="799" y="449" width="1" height="4" fill="#c0c0c0" />
<rect x="803" y="448" width="1" height="5" fill="#c0c0c0" />
<rect x="807" y="452" width="1" height="12" fill="#c0c0c0" />
<rect x="811" y="452" width="1" height="20" fill="#c0c0c0" />
<rect x="815" y="452" width="1" height="24" fill="#c0c0c0" />
<rect x="819" y="452" width="1" height="28" fill="#c0c0c0" />
<rect x="823" y="452" width="1" height="31" fill="#c0c0c0" />
<rect x="827" y="452" width="1" height="31" fill="#c0c0c0" />
<rect x="831" y="452" width="1" height="33" fill="#c0c0c0" />
<rect x="835" y="452" width="1" height="35" fill="#c0c0c0" />
<rect x="839" y="452" width="1" height="42" fill="#c0c0c0" />
<rect x="843" y="452" width="1" height="50" fill="#c0c0c0" />
<rect x="847" y="452" width="1" height="54" fill="#c0c0c0" />
<rect x="851" y="452" width="1" height="53" fill="#c0c0c0" />
<rect x="855" y="452" width="1" height="55" fill="#c0c0c0" />
<rect x="859" y="452" width="1" height="54" fill="#c0c0c0" />
<rect x="863" y="452" width="1" height="53" fill="#c0c0c0" />
<rect x="867" y="452" width="1" height="52" fill="#c0c0c0" />
<rect x="871" y="452" width="1" height="51" fill="#c0c0c0" />
<rect x="875" y="452" width="1" height="52" fill="#c0c0c0" />
<rect x="879" y="452" width="1" height="47" fill="#c0c0c0" />
<rect x="883" y="452" width="1" height="39" fill="#c0c0c0" />
<rect x="887" y="452" width="1" height="31" fill="#c0c0c0" />
<rect x="891" y="452" width="1" height="25" fill="#c0c0c0" />
<rect x="895" y="452" width="1" height="19" fill="#c0c0c0" />
<rect x="899" y="452" width="1" height="12" fill="#c0c0c0" />
<rect x="903" y="452" width="1" height="8" fill="#c0c0c0" />
<rect x="907" y="452" width="1" height="7" fill="#c0c0c0" />
<rect x="911" y="452" width="1" height="5" fill="#c0c0c0" />
<rect x="915" y="452" width="1" height="1" fill="#c0c0c0" />
<rect x="919" y="450" width="1" height="3" fill="#c0c0c0" />
<rect x="923" y="450" width="1" height="3" fill="#c0c0c0" />
<rect x="927" y="448" width="1" height="5" fill="#c0c0c0" />
<rect x="931" y="447" width="1" height="6" fill="#c0c0c0" />
<rect x="935" y="446" width="1" height="7" fill="#c0c0c0" />
<rect x="939" y="444" width="1" height="9" fill="#c0c0c0" />
<rect x="943" y="442" width="1" height="11" fill="#c0c0c0" />
<rect x="947" y="436" width="1" height="17" fill="#c0c0c0" />
<rect x="951" y="430" width="1" height="23" fill="#c0c0c0" />
<rect x="955" y="427" width="1" height="26" fill="#c0c0c0" />
<rect x="959" y="423" width="1" height="30" fill="#c0c0c0" />
<rect x="963" y="420" width="1" height="33" fill="#c0c0c0" />
<rect x="967" y="419" width="1" height="34" fill="#c0c0c0" />
<rect x="971" y="422" width="1" height="31" fill="#c0c0c0" />
<rect x="975" y="431" width="1" height="22" fill="#c0c0c0" />
<rect x="979" y="434" width="1" height="19" fill="#c0c0c0" />
<rect x="983" y="441" width="1" height="12" fill="#c0c0c0" />
<rect x="987" y="446" width="1" height="7" fill="#c0c0c0" />
<rect x="991" y="448" width="1" height="5" fill="#c0c0c0" />
<rect x="995" y="452" width="1" height="4" fill="#c0c0c0" />
<rect x="999" y="452" width="1" height="6" fill="#c0c0c0" />
<rect x="1003" y="452" width="1" height="8" fill="#c0c0c0" />
<rect x="1007" y="452" width="1" height="9" fill="#c0c0c0" />
<rect x="1011" y="452" width="1" height="11" fill="#c0c0c0" />
<rect x="1015" y="452" width="1" height="12" fill="#c0c0c0" />
<rect x="1019" y="452" width="1" height="11" fill="#c0c0c0" />
<rect x="1023" y="452" width="1" height="14" fill="#c0c0c0" />
<rect x="1027" y="452" width="1" height="12" fill="#c0c0c0" />
<rect x="1031" y="452" width="1" height="8" fill="#c0c0c0" />
<rect x="1035" y="452" width="1" height="5" fill="#c0c0c0" />
<rect x="-1" y="412" width="1" height="1" fill="#ff0000" />
<rect x="0" y="412" width="1" height="1" fill="#ff0000" />
<rect x="1" y="412" width="1" height="1" fill="#ff0000" />
<rect x="5" y="412" width="1" height="1" fill="#ff0000" />
<rect x="6" y="412" width="1" height="1" fill="#ff0000" />
<rect x="7" y="412" width="1" height="1" fill="#ff0000" />
<rect x="11" y="413" width="1" height="1" fill="#ff0000" />
<rect x="12" y="413" width="1" height="1" fill="#ff0000" />
<rect x="13" y="413" width="1" height="1" fill="#ff0000" />
<rect x="17" y="413" width="1" height="1" fill="#ff0000" />
<rect x="18" y="414" width="1" height="1" fill="#ff0000" />
<rect x="19" y="414" width="1" height="1" fill="#ff0000" />
<rect x="23" y="414" width="1" height="1" fill="#ff0000" />
<rect x="24" y="414" width="1" height="1" fill="#ff0000" />
<rect x="25" y="415" width="1" height="1" fill="#ff0000" />
<rect x="29" y="416" width="1" height="1" fill="#ff0000" />
<rect x="30" y="417" width="1" height="1" fill="#ff0000" />
<rect x="31" y="417" width="1" height="1" fill="#ff0000" />
<rect x="35" y="419" width="1" height="1" fill="#ff0000" />
<rect x="36" y="419" width="1" height="1" fill="#ff0000" />
<rect x="37" y="420" width="1" height="1" fill="#ff0000" />
<rect x="41" y="423" width="1" height="1" fill="#ff0000" />
<rect x="42" y="423" width="1" height="1" fill="#ff0000" />
<rect x="43" y="424" width="1" height="1" fill="#ff0000" />
<rect x="47" y="427" width="1" height="1" fill="#ff0000" />
<rect x="48" y="428" width="1" height="1" fill="#ff0000" />
<rect x="49" y="429" width="1" height="1" fill="#ff0000" />
<rect x="53" y="431" width="1" height="1" fill="#ff0000" />
<rect x="54" y="432" width="1" height="1" fill="#ff0000" />
<rect x="55" y="432" width="1" height="1" fill="#ff0000" />
<rect x="59" y="435" width="1" height="1" fill="#ff0000" />
<rect x="60" y="435" width="1" height="1" fill="#ff0000" />
<rect x="61" y="435" width="1" height="1" fill="#ff0000" />
<rect x="65" y="437" width="1" height="1" fill="#ff0000" />
<rect x="66" y="438" width="1" height="1" fill="#ff0000" />
<rect x="67" y="438" width="1" height="1" fill="#ff0000" />
<rect x="71" y="438" width="1" height="1" fill="#ff0000" />
<rect x="72" y="438" width="1" height="1" fill="#ff0000" />
<rect x="73" y="438" width="1" height="1" fill="#ff0000" />
<rect x="77" y="438" width="1" height="1" fill="#ff0000" />
<rect x="78" y="439" width="1" height="1" fill="#ff0000" />
<rect x="79" y="439" width="1" height="1" fill="#ff0000" />
<rect x="83" y="438" width="1" height="1" fill="#ff0000" />
<rect x="84" y="438" width="1" height="1" fill="#ff0000" />
<rect x="85" y="438" width="1" height="1" fill="#ff0000" />
<rect x="89" y="436" width="1" height="1" fill="#ff0000" />
<rect x="90" y="435" width="1" height="1" fill="#ff0000" />
<rect x="91" y="435" width="1" height="1" fill="#ff0000" />
<rect x="95" y="433" width="1" height="1" fill="#ff0000" />
<rect x="96" y="433" width="1" height="1" fill="#ff0000" />
<rect x="97" y="432" width="1" height="1" fill="#ff0000" />
<rect x="101" y="430" width="1" height="1" fill="#ff0000" />
<rect x="102" y="429" width="1" height="1" fill="#ff0000" />
<rect x="103" y="429" width="1" height="1" fill="#ff0000" />
<rect x="107" y="427" width="1" height="1" fill="#ff0000" />
<rect x="108" y="427" width="1" height="1" fill="#ff0000" />
<rect x="109" y="426" width="1" height="1" fill="#ff0000" />
<rect x="113" y="424" width="1" height="1" fill="#ff0000" />
<rect x="114" y="423" width="1" height="1" fill="#ff0000" />
<rect x="115" y="423" width="1" height="1" fill="#ff0000" />
<rect x="119" y="422" width="1" height="1" fill="#ff0000" />
<rect x="120" y="422" width="1" height="1" fill="#ff0000" />
<rect x="121" y="422" width="1" height="1" fill="#ff0000" />
<rect x="125" y="423" width="1" height="1" fill="#ff0000" />
<rect x="126" y="424" width="1" height="1" fill="#ff0000" />
<rect x="127" y="424" width="1" height="1" fill="#ff0000" />
<rect x="131" y="425" width="1" height="1" fill="#ff0000" />
<rect x="132" y="425" width="1" height="1" fill="#ff0000" />
<rect x="133" y="425" width="1" height="1" fill="#ff0000" />
<rect x="137" y="426" width="1" height="1" fill="#ff0000" />
<rect x="138" y="427" width="1" height="1" fill="#ff0000" />
<rect x="139" y="427" width="1" height="1" fill="#ff0000" />
<rect x="143" y="428" width="1" height="1" fill="#ff0000" />
<rect x="144" y="428" width="1" height="1" fill="#ff0000" />
<rect x="145" y="428" width="1" height="1" fill="#ff0000" />
<rect x="149" y="429" width="1" height="1" fill="#ff0000" />
<rect x="150" y="429" width="1" height="1" fill="#ff0000" />
<rect x="151" y="429" width="1" height="1" fill="#ff0000" />
<rect x="155" y="428" width="1" height="1" fill="#ff0000" />
<rect x="156" y="428" width="1" height="1" fill="#ff0000" />
<rect x="157" y="428" width="1" height="1" fill="#ff0000" />
<rect x="161" y="426" width="1" height="1" fill="#ff0000" />
<rect x="162" y="425" width="1" height="1" fill="#ff0000" />
<rect x="163" y="425" width="1" height="1" fill="#ff0000" />
<rect x="167" y="422" width="1" height="1" fill="#ff0000" />
<rect x="168" y="421" width="1" height="1" fill="#ff0000" />
<rect x="169" y="420" width="1" height="1" fill="#ff0000" />
<rect x="173" y="418" width="1" height="1" fill="#ff0000" />
<rect x="174" y="417" width="1" height="1" fill="#ff0000" />
<rect x="175" y="417" width="1" height="1" fill="#ff0000" />
<rect x="179" y="414" width="1" height="1" fill="#ff0000" />
<rect x="180" y="414" width="1" height="1" fill="#ff0000" />
<rect x="181" y="413" width="1" height="1" fill="#ff0000" />
<rect x="185" y="410" width="1" height="1" fill="#ff0000" />
<rect x="186" y="410" width="1" height="1" fill="#ff0000" />
<rect x="187" y="409" width="1" height="1" fill="#ff0000" />
<rect x="191" y="407" width="1" height="1" fill="#ff0000" />
<rect x="192" y="406" width="1" height="1" fill="#ff0000" />
<rect x="193" y="405" width="1" height="1" fill="#ff0000" />
<rect x="197" y="403" width="1" height="1" fill="#ff0000" />
<rect x="198" y="402" width="1" height="1" fill="#ff0000" />
<rect x="199" y="402" width="1" height="1" fill="#ff0000" />
<rect x="203" y="402" width="1" height="1" fill="#ff0000" />
<rect x="204" y="402" width="1" height="1" fill="#ff0000" />
<rect x="205" y="402" width="1" height="1" fill="#ff0000" />
<rect x="209" y="403" width="1" height="1" fill="#ff0000" />
<rect x="210" y="404" width="1" height="1" fill="#ff0000" />
<rect x="211" y="404" width="1" height="1" fill="#ff0000" />
<rect x="215" y="406" width="1" height="1" fill="#ff0000" />
<rect x="216" y="407" width="1" height="1" fill="#ff0000" />
<rect x="217" y="408" width="1" height="1" fill="#ff0000" />
<rect x="221" y="412" width="1" height="1" fill="#ff0000" />
<rect x="222" y="413" width="1" height="1" fill="#ff0000" />
<rect x="223" y="414" width="1" height="1" fill="#ff0000" />
<rect x="226" y="418" width="1" height="1" fill="#ff0000" />
<rect x="227" y="419" width="1" height="1" fill="#ff0000" />
<rect x="228" y="420" width="1" height="1" fill="#ff0000" />
<rect x="230" y="424" width="1" height="1" fill="#ff0000" />
<rect x="231" y="425" width="1" height="1" fill="#ff0000" />
<rect x="232" y="426" width="1" height="1" fill="#ff0000" />
<rect x="235" y="430" width="1" height="1" fill="#ff0000" />
<rect x="236" y="431" width="1" height="1" fill="#ff0000" />
<rect x="237" y="432" width="1" height="1" fill="#ff0000" />
<rect x="240" y="436" width="1" height="1" fill="#ff0000" />
<rect x="241" y="437" width="1" height="1" fill="#ff0000" />
<rect x="242" y="437" width="1" height="1" fill="#ff0000" />
<rect x="246" y="440" width="1" height="1" fill="#ff0000" />
<rect x="247" y="441" width="1" height="1" fill="#ff0000" />
<rect x="248" y="441" width="1" height="1" fill="#ff0000" />
<rect x="252" y="443" width="1" height="1" fill="#ff0000" />
<rect x="253" y="443" width="1" height="1" fill="#ff0000" />
<rect x="254" y="444" width="1" height="1" fill="#ff0000" />
<rect x="258" y="444" width="1" height="1" fill="#ff0000" />
<rect x="259" y="444" width="1" height="1" fill="#ff0000" />
<rect x="260" y="444" width="1" height="1" fill="#ff0000" />
<rect x="264" y="443" width="1" height="1" fill="#ff0000" />
<rect x="265" y="442" width="1" height="1" fill="#ff0000" />
<rect x="266" y="441" width="1" height="1" fill="#ff0000" />
<rect x="270" y="440" width="1" height="1" fill="#ff0000" />
<rect x="271" y="440" width="1" height="1" fill="#ff0000" />
<rect x="272" y="440" width="1" height="1" fill="#ff0000" />
<rect x="276" y="440" width="1" height="1" fill="#ff0000" />
<rect x="277" y="440" width="1" height="1" fill="#ff0000" />
<rect x="278" y="439" width="1" height="1" fill="#ff0000" />
<rect x="282" y="440" width="1" height="1" fill="#ff0000" />
<rect x="283" y="440" width="1" height="1" fill="#ff0000" />
<rect x="284" y="440" width="1" height="1" fill="#ff0000" />
<rect x="288" y="440" width="1" height="1" fill="#ff0000" />
<rect x="289" y="440" width="1" height="1" fill="#ff0000" />
<rect x="290" y="441" width="1" height="1" fill="#ff0000" />
<rect x="294" y="443" width="1" height="1" fill="#ff0000" />
<rect x="295" y="443" width="1" height="1" fill="#ff0000" />
<rect x="296" y="444" width="1" height="1" fill="#ff0000" />
<rect x="300" y="447" width="1" height="1" fill="#ff0000" />
<rect x="301" y="448" width="1" height="1" fill="#ff0000" />
<rect x="301" y="449" width="1" height="1" fill="#ff0000" />
<rect x="305" y="453" width="1" height="1" fill="#ff0000" />
<rect x="306" y="454" width="1" height="1" fill="#ff0000" />
<rect x="307" y="455" width="1" height="1" fill="#ff0000" />
<rect x="311" y="459" width="1" height="1" fill="#ff0000" />
<rect x="312" y="460" width="1" height="1" fill="#ff0000" />
<rect x="313" y="461" width="1" height="1" fill="#ff0000" />
<rect x="317" y="465" width="1" height="1" fill="#ff0000" />
<rect x="318" y="465" width="1" height="1" fill="#ff0000" />
<rect x="319" y="466" width="1" height="1" fill="#ff0000" />
<rect x="323" y="468" width="1" height="1" fill="#ff0000" />
<rect x="324" y="468" width="1" height="1" fill="#ff0000" />
<rect x="325" y="468" width="1" height="1" fill="#ff0000" />
<rect x="329" y="469" width="1" height="1" fill="#ff0000" />
<rect x="330" y="470" width="1" height="1" fill="#ff0000" />
<rect x="331" y="470" width="1" height="1" fill="#ff0000" />
<rect x="335" y="468" width="1" height="1" fill="#ff0000" />
<rect x="336" y="467" width="1" height="1" fill="#ff0000" />
<rect x="337" y="466" width="1" height="1" fill="#ff0000" />
<rect x="341" y="462" width="1" height="1" fill="#ff0000" />
<rect x="341" y="461" width="1" height="1" fill="#ff0000" />
<rect x="342" y="460" width="1" height="1" fill="#ff0000" />
<rect x="345" y="456" width="1" height="1" fill="#ff0000" />
<rect x="346" y="455" width="1" height="1" fill="#ff0000" />
<rect x="347" y="454" width="1" height="1" fill="#ff0000" />
<rect x="350" y="450" width="1" height="1" fill="#ff0000" />
<rect x="351" y="449" width="1" height="1" fill="#ff0000" />
<rect x="352" y="448" width="1" height="1" fill="#ff0000" />
<rect x="355" y="444" width="1" height="1" fill="#ff0000" />
<rect x="356" y="443" width="1" height="1" fill="#ff0000" />
<rect x="357" y="442" width="1" height="1" fill="#ff0000" />
<rect x="361" y="438" width="1" height="1" fill="#ff0000" />
<rect x="362" y="437" width="1" height="1" fill="#ff0000" />
<rect x="363" y="436" width="1" height="1" fill="#ff0000" />
<rect x="367" y="432" width="1" height="1" fill="#ff0000" />
<rect x="368" y="431" width="1" height="1" fill="#ff0000" />
<rect x="369" y="430" width="1" height="1" fill="#ff0000" />
<rect x="373" y="426" width="1" height="1" fill="#ff0000" />
<rect x="374" y="426" width="1" height="1" fill="#ff0000" />
<rect x="375" y="425" width="1" height="1" fill="#ff0000" />
<rect x="379" y="423" width="1" height="1" fill="#ff0000" />
<rect x="380" y="422" width="1" height="1" fill="#ff0000" />
<rect x="381" y="421" width="1" height="1" fill="#ff0000" />
<rect x="385" y="419" width="1" height="1" fill="#ff0000" />
<rect x="386" y="418" width="1" height="1" fill="#ff0000" />
<rect x="387" y="418" width="1" height="1" fill="#ff0000" />
<rect x="391" y="415" width="1" height="1" fill="#ff0000" />
<rect x="392" y="414" width="1" height="1" fill="#ff0000" />
<rect x="393" y="413" width="1" height="1" fill="#ff0000" />
<rect x="397" y="411" width="1" height="1" fill="#ff0000" />
<rect x="398" y="410" width="1" height="1" fill="#ff0000" />
<rect x="399" y="410" width="1" height="1" fill="#ff0000" />
<rect x="403" y="408" width="1" height="1" fill="#ff0000" />
<rect x="404" y="408" width="1" height="1" fill="#ff0000" />
<rect x="405" y="408" width="1" height="1" fill="#ff0000" />
<rect x="409" y="408" width="1" height="1" fill="#ff0000" />
<rect x="410" y="408" width="1" height="1" fill="#ff0000" />
<rect x="411" y="408" width="1" height="1" fill="#ff0000" />
<rect x="415" y="410" width="1" height="1" fill="#ff0000" />
<rect x="416" y="410" width="1" height="1" fill="#ff0000" />
<rect x="417" y="411" width="1" height="1" fill="#ff0000" />
<rect x="421" y="413" width="1" height="1" fill="#ff0000" />
<rect x="422" y="414" width="1" height="1" fill="#ff0000" />
<rect x="423" y="414" width="1" height="1" fill="#ff0000" />
<rect x="427" y="417" width="1" height="1" fill="#ff0000" />
<rect x="428" y="418" width="1" height="1" fill="#ff0000" />
<rect x="429" y="419" width="1" height="1" fill="#ff0000" />
<rect x="433" y="423" width="1" height="1" fill="#ff0000" />
<rect x="433" y="424" width="1" height="1" fill="#ff0000" />
<rect x="434" y="425" width="1" height="1" fill="#ff0000" />
<rect x="438" y="429" width="1" height="1" fill="#ff0000" />
<rect x="439" y="430" width="1" height="1" fill="#ff0000" />
<rect x="440" y="431" width="1" height="1" fill="#ff0000" />
<rect x="444" y="435" width="1" height="1" fill="#ff0000" />
<rect x="445" y="436" width="1" height="1" fill="#ff0000" />
<rect x="446" y="437" width="1" height="1" fill="#ff0000" />
<rect x="450" y="440" width="1" height="1" fill="#ff0000" />
<rect x="451" y="441" width="1" height="1" fill="#ff0000" />
<rect x="452" y="442" width="1" height="1" fill="#ff0000" />
<rect x="456" y="446" width="1" height="1" fill="#ff0000" />
<rect x="457" y="447" width="1" height="1" fill="#ff0000" />
<rect x="458" y="447" width="1" height="1" fill="#ff0000" />
<rect x="462" y="450" width="1" height="1" fill="#ff0000" />
<rect x="463" y="451" width="1" height="1" fill="#ff0000" />
<rect x="464" y="451" width="1" height="1" fill="#ff0000" />
<rect x="468" y="453" width="1" height="1" fill="#ff0000" />
<rect x="469" y="454" width="1" height="1" fill="#ff0000" />
<rect x="470" y="455" width="1" height="1" fill="#ff0000" />
<rect x="474" y="457" width="1" height="1" fill="#ff0000" />
<rect x="475" y="457" width="1" height="1" fill="#ff0000" />
<rect x="476" y="458" width="1" height="1" fill="#ff0000" />
<rect x="480" y="461" width="1" height="1" fill="#ff0000" />
<rect x="481" y="462" width="1" height="1" fill="#ff0000" />
<rect x="482" y="463" width="1" height="1" fill="#ff0000" />
<rect x="486" y="467" width="1" height="1" fill="#ff0000" />
<rect x="487" y="468" width="1" height="1" fill="#ff0000" />
<rect x="488" y="469" width="1" height="1" fill="#ff0000" />
<rect x="491" y="473" width="1" height="1" fill="#ff0000" />
<rect x="492" y="474" width="1" height="1" fill="#ff0000" />
<rect x="492" y="475" width="1" height="1" fill="#ff0000" />
<rect x="495" y="479" width="1" height="1" fill="#ff0000" />
<rect x="496" y="480" width="1" height="1" fill="#ff0000" />
<rect x="496" y="481" width="1" height="1" fill="#ff0000" />
<rect x="498" y="485" width="1" height="1" fill="#ff0000" />
<rect x="499" y="486" width="1" height="1" fill="#ff0000" />
<rect x="499" y="487" width="1" height="1" fill="#ff0000" />
<rect x="501" y="491" width="1" height="1" fill="#ff0000" />
<rect x="502" y="492" width="1" height="1" fill="#ff0000" />
<rect x="503" y="493" width="1" height="1" fill="#ff0000" />
<rect x="505" y="497" width="1" height="1" fill="#ff0000" />
<rect x="505" y="498" width="1" height="1" fill="#ff0000" />
<rect x="505" y="499" width="1" height="1" fill="#ff0000" />
<rect x="507" y="503" width="1" height="1" fill="#ff0000" />
<rect x="508" y="504" width="1" height="1" fill="#ff0000" />
<rect x="509" y="505" width="1" height="1" fill="#ff0000" />
<rect x="511" y="509" width="1" height="1" fill="#ff0000" />
<rect x="511" y="510" width="1" height="1" fill="#ff0000" />
<rect x="512" y="511" width="1" height="1" fill="#ff0000" />
<rect x="514" y="515" width="1" height="1" fill="#ff0000" />
<rect x="514" y="516" width="1" height="1" fill="#ff0000" />
<rect x="515" y="517" width="1" height="1" fill="#ff0000" />
<rect x="518" y="521" width="1" height="1" fill="#ff0000" />
<rect x="518" y="522" width="1" height="1" fill="#ff0000" />
<rect x="519" y="523" width="1" height="1" fill="#ff0000" />
<rect x="522" y="527" width="1" height="1" fill="#ff0000" />
<rect x="523" y="528" width="1" height="1" fill="#ff0000" />
<rect x="524" y="529" width="1" height="1" fill="#ff0000" />
<rect x="528" y="533" width="1" height="1" fill="#ff0000" />
<rect x="529" y="534" width="1" height="1" fill="#ff0000" />
<rect x="530" y="534" width="1" height="1" fill="#ff0000" />
<rect x="534" y="535" width="1" height="1" fill="#ff0000" />
<rect x="535" y="535" width="1" height="1" fill="#ff0000" />
<rect x="536" y="535" width="1" height="1" fill="#ff0000" />
<rect x="540" y="535" width="1" height="1" fill="#ff0000" />
<rect x="541" y="534" width="1" height="1" fill="#ff0000" />
<rect x="542" y="533" width="1" height="1" fill="#ff0000" />
<rect x="546" y="531" width="1" height="1" fill="#ff0000" />
<rect x="547" y="530" width="1" height="1" fill="#ff0000" />
<rect x="548" y="529" width="1" height="1" fill="#ff0000" />
<rect x="552" y="525" width="1" height="1" fill="#ff0000" />
<rect x="553" y="524" width="1" height="1" fill="#ff0000" />
<rect x="554" y="523" width="1" height="1" fill="#ff0000" />
<rect x="558" y="519" width="1" height="1" fill="#ff0000" />
<rect x="559" y="518" width="1" height="1" fill="#ff0000" />
<rect x="560" y="517" width="1" height="1" fill="#ff0000" />
<rect x="564" y="513" width="1" height="1" fill="#ff0000" />
<rect x="565" y="512" width="1" height="1" fill="#ff0000" />
<rect x="566" y="512" width="1" height="1" fill="#ff0000" />
<rect x="570" y="508" width="1" height="1" fill="#ff0000" />
<rect x="571" y="507" width="1" height="1" fill="#ff0000" />
<rect x="572" y="506" width="1" height="1" fill="#ff0000" />
<rect x="576" y="503" width="1" height="1" fill="#ff0000" />
<rect x="577" y="502" width="1" height="1" fill="#ff0000" />
<rect x="578" y="502" width="1" height="1" fill="#ff0000" />
<rect x="582" y="499" width="1" height="1" fill="#ff0000" />
<rect x="583" y="499" width="1" height="1" fill="#ff0000" />
<rect x="584" y="498" width="1" height="1" fill="#ff0000" />
<rect x="588" y="495" width="1" height="1" fill="#ff0000" />
<rect x="589" y="494" width="1" height="1" fill="#ff0000" />
<rect x="590" y="493" width="1" height="1" fill="#ff0000" />
<rect x="594" y="489" width="1" height="1" fill="#ff0000" />
<rect x="595" y="488" width="1" height="1" fill="#ff0000" />
<rect x="596" y="487" width="1" height="1" fill="#ff0000" />
<rect x="599" y="483" width="1" height="1" fill="#ff0000" />
<rect x="600" y="482" width="1" height="1" fill="#ff0000" />
<rect x="601" y="481" width="1" height="1" fill="#ff0000" />
<rect x="605" y="477" width="1" height="1" fill="#ff0000" />
<rect x="606" y="476" width="1" height="1" fill="#ff0000" />
<rect x="607" y="475" width="1" height="1" fill="#ff0000" />
<rect x="610" y="471" width="1" height="1" fill="#ff0000" />
<rect x="611" y="470" width="1" height="1" fill="#ff0000" />
<rect x="612" y="469" width="1" height="1" fill="#ff0000" />
<rect x="616" y="465" width="1" height="1" fill="#ff0000" />
<rect x="617" y="464" width="1" height="1" fill="#ff0000" />
<rect x="617" y="463" width="1" height="1" fill="#ff0000" />
<rect x="621" y="459" width="1" height="1" fill="#ff0000" />
<rect x="622" y="458" width="1" height="1" fill="#ff0000" />
<rect x="623" y="457" width="1" height="1" fill="#ff0000" />
<rect x="627" y="453" width="1" height="1" fill="#ff0000" />
<rect x="628" y="452" width="1" height="1" fill="#ff0000" />
<rect x="629" y="451" width="1" height="1" fill="#ff0000" />
<rect x="633" y="448" width="1" height="1" fill="#ff0000" />
<rect x="634" y="448" width="1" height="1" fill="#ff0000" />
<rect x="635" y="447" width="1" height="1" fill="#ff0000" />
<rect x="639" y="445" width="1" height="1" fill="#ff0000" />
<rect x="640" y="444" width="1" height="1" fill="#ff0000" />
<rect x="641" y="443" width="1" height="1" fill="#ff0000" />
<rect x="645" y="441" width="1" height="1" fill="#ff0000" />
<rect x="646" y="440" width="1" height="1" fill="#ff0000" />
<rect x="647" y="440" width="1" height="1" fill="#ff0000" />
<rect x="651" y="439" width="1" height="1" fill="#ff0000" />
<rect x="652" y="439" width="1" height="1" fill="#ff0000" />
<rect x="653" y="438" width="1" height="1" fill="#ff0000" />
<rect x="657" y="437" width="1" height="1" fill="#ff0000" />
<rect x="658" y="437" width="1" height="1" fill="#ff0000" />
<rect x="659" y="437" width="1" height="1" fill="#ff0000" />
<rect x="663" y="437" width="1" height="1" fill="#ff0000" />
<rect x="664" y="437" width="1" height="1" fill="#ff0000" />
<rect x="665" y="437" width="1" height="1" fill="#ff0000" />
<rect x="669" y="436" width="1" height="1" fill="#ff0000" />
<rect x="670" y="437" width="1" height="1" fill="#ff0000" />
<rect x="671" y="437" width="1" height="1" fill="#ff0000" />
<rect x="675" y="440" width="1" height="1" fill="#ff0000" />
<rect x="676" y="441" width="1" height="1" fill="#ff0000" />
<rect x="677" y="442" width="1" height="1" fill="#ff0000" />
<rect x="681" y="445" width="1" height="1" fill="#ff0000" />
<rect x="682" y="446" width="1" height="1" fill="#ff0000" />
<rect x="683" y="447" width="1" height="1" fill="#ff0000" />
<rect x="687" y="450" width="1" height="1" fill="#ff0000" />
<rect x="688" y="451" width="1" height="1" fill="#ff0000" />
<rect x="689" y="452" width="1" height="1" fill="#ff0000" />
<rect x="693" y="455" width="1" height="1" fill="#ff0000" />
<rect x="694" y="455" width="1" height="1" fill="#ff0000" />
<rect x="695" y="456" width="1" height="1" fill="#ff0000" />
<rect x="699" y="459" width="1" height="1" fill="#ff0000" />
<rect x="700" y="460" width="1" height="1" fill="#ff0000" />
<rect x="701" y="461" width="1" height="1" fill="#ff0000" />
<rect x="705" y="463" width="1" height="1" fill="#ff0000" />
<rect x="706" y="464" width="1" height="1" fill="#ff0000" />
<rect x="707" y="464" width="1" height="1" fill="#ff0000" />
<rect x="711" y="464" width="1" height="1" fill="#ff0000" />
<rect x="712" y="464" width="1" height="1" fill="#ff0000" />
<rect x="713" y="463" width="1" height="1" fill="#ff0000" />
<rect x="717" y="461" width="1" height="1" fill="#ff0000" />
<rect x="718" y="460" width="1" height="1" fill="#ff0000" />
<rect x="719" y="460" width="1" height="1" fill="#ff0000" />
<rect x="723" y="457" width="1" height="1" fill="#ff0000" />
<rect x="724" y="457" width="1" height="1" fill="#ff0000" />
<rect x="725" y="456" width="1" height="1" fill="#ff0000" />
<rect x="729" y="454" width="1" height="1" fill="#ff0000" />
<rect x="730" y="453" width="1" height="1" fill="#ff0000" />
<rect x="731" y="453" width="1" height="1" fill="#ff0000" />
<rect x="735" y="451" width="1" height="1" fill="#ff0000" />
<rect x="736" y="451" width="1" height="1" fill="#ff0000" />
<rect x="737" y="450" width="1" height="1" fill="#ff0000" />
<rect x="741" y="448" width="1" height="1" fill="#ff0000" />
<rect x="742" y="447" width="1" height="1" fill="#ff0000" />
<rect x="743" y="447" width="1" height="1" fill="#ff0000" />
<rect x="747" y="446" width="1" height="1" fill="#ff0000" />
<rect x="748" y="446" width="1" height="1" fill="#ff0000" />
<rect x="749" y="446" width="1" height="1" fill="#ff0000" />
<rect x="753" y="446" width="1" height="1" fill="#ff0000" />
<rect x="754" y="447" width="1" height="1" fill="#ff0000" />
<rect x="755" y="447" width="1" height="1" fill="#ff0000" />
<rect x="759" y="449" width="1" height="1" fill="#ff0000" />
<rect x="760" y="449" width="1" height="1" fill="#ff0000" />
<rect x="761" y="449" width="1" height="1" fill="#ff0000" />
<rect x="765" y="450" width="1" height="1" fill="#ff0000" />
<rect x="766" y="451" width="1" height="1" fill="#ff0000" />
<rect x="767" y="451" width="1" height="1" fill="#ff0000" />
<rect x="771" y="452" width="1" height="1" fill="#ff0000" />
<rect x="772" y="452" width="1" height="1" fill="#ff0000" />
<rect x="773" y="452" width="1" height="1" fill="#ff0000" />
<rect x="777" y="452" width="1" height="1" fill="#ff0000" />
<rect x="778" y="453" width="1" height="1" fill="#ff0000" />
<rect x="779" y="453" width="1" height="1" fill="#ff0000" />
<rect x="783" y="452" width="1" height="1" fill="#ff0000" />
<rect x="784" y="452" width="1" height="1" fill="#ff0000" />
<rect x="785" y="452" width="1" height="1" fill="#ff0000" />
<rect x="789" y="451" width="1" height="1" fill="#ff0000" />
<rect x="790" y="450" width="1" height="1" fill="#ff0000" />
<rect x="791" y="450" width="1" height="1" fill="#ff0000" />
<rect x="795" y="449" width="1" height="1" fill="#ff0000" />
<rect x="796" y="449" width="1" height="1" fill="#ff0000" />
<rect x="797" y="449" width="1" height="1" fill="#ff0000" />
<rect x="801" y="448" width="1" height="1" fill="#ff0000" />
<rect x="802" y="447" width="1" height="1" fill="#ff0000" />
<rect x="803" y="447" width="1" height="1" fill="#ff0000" />
<rect x="807" y="448" width="1" height="1" fill="#ff0000" />
<rect x="808" y="449" width="1" height="1" fill="#ff0000" />
<rect x="809" y="450" width="1" height="1" fill="#ff0000" />
<rect x="813" y="453" width="1" height="1" fill="#ff0000" />
<rect x="814" y="453" width="1" height="1" fill="#ff0000" />
<rect x="815" y="454" width="1" height="1" fill="#ff0000" />
<rect x="819" y="458" width="1" height="1" fill="#ff0000" />
<rect x="820" y="459" width="1" height="1" fill="#ff0000" />
<rect x="821" y="460" width="1" height="1" fill="#ff0000" />
<rect x="825" y="464" width="1" height="1" fill="#ff0000" />
<rect x="826" y="465" width="1" height="1" fill="#ff0000" />
<rect x="827" y="466" width="1" height="1" fill="#ff0000" />
<rect x="831" y="470" width="1" height="1" fill="#ff0000" />
<rect x="832" y="471" width="1" height="1" fill="#ff0000" />
<rect x="833" y="472" width="1" height="1" fill="#ff0000" />
<rect x="836" y="476" width="1" height="1" fill="#ff0000" />
<rect x="837" y="477" width="1" height="1" fill="#ff0000" />
<rect x="838" y="478" width="1" height="1" fill="#ff0000" />
<rect x="841" y="482" width="1" height="1" fill="#ff0000" />
<rect x="842" y="483" width="1" height="1" fill="#ff0000" />
<rect x="843" y="484" width="1" height="1" fill="#ff0000" />
<rect x="847" y="487" width="1" height="1" fill="#ff0000" />
<rect x="848" y="488" width="1" height="1" fill="#ff0000" />
<rect x="849" y="489" width="1" height="1" fill="#ff0000" />
<rect x="853" y="493" width="1" height="1" fill="#ff0000" />
<rect x="854" y="493" width="1" height="1" fill="#ff0000" />
<rect x="855" y="494" width="1" height="1" fill="#ff0000" />
<rect x="859" y="496" width="1" height="1" fill="#ff0000" />
<rect x="860" y="497" width="1" height="1" fill="#ff0000" />
<rect x="861" y="498" width="1" height="1" fill="#ff0000" />
<rect x="865" y="500" width="1" height="1" fill="#ff0000" />
<rect x="866" y="501" width="1" height="1" fill="#ff0000" />
<rect x="867" y="501" width="1" height="1" fill="#ff0000" />
<rect x="871" y="502" width="1" height="1" fill="#ff0000" />
<rect x="872" y="502" width="1" height="1" fill="#ff0000" />
<rect x="873" y="503" width="1" height="1" fill="#ff0000" />
<rect x="877" y="504" width="1" height="1" fill="#ff0000" />
<rect x="878" y="503" width="1" height="1" fill="#ff0000" />
<rect x="879" y="503" width="1" height="1" fill="#ff0000" />
<rect x="883" y="502" width="1" height="1" fill="#ff0000" />
<rect x="884" y="501" width="1" height="1" fill="#ff0000" />
<rect x="885" y="500" width="1" height="1" fill="#ff0000" />
<rect x="889" y="497" width="1" height="1" fill="#ff0000" />
<rect x="890" y="497" width="1" height="1" fill="#ff0000" />
<rect x="891" y="496" width="1" height="1" fill="#ff0000" />
<rect x="895" y="492" width="1" height="1" fill="#ff0000" />
<rect x="896" y="491" width="1" height="1" fill="#ff0000" />
<rect x="897" y="490" width="1" height="1" fill="#ff0000" />
<rect x="901" y="486" width="1" height="1" fill="#ff0000" />
<rect x="901" y="485" width="1" height="1" fill="#ff0000" />
<rect x="902" y="484" width="1" height="1" fill="#ff0000" />
<rect x="905" y="480" width="1" height="1" fill="#ff0000" />
<rect x="906" y="479" width="1" height="1" fill="#ff0000" />
<rect x="907" y="478" width="1" height="1" fill="#ff0000" />
<rect x="910" y="474" width="1" height="1" fill="#ff0000" />
<rect x="910" y="473" width="1" height="1" fill="#ff0000" />
<rect x="911" y="472" width="1" height="1" fill="#ff0000" />
<rect x="914" y="468" width="1" height="1" fill="#ff0000" />
<rect x="915" y="467" width="1" height="1" fill="#ff0000" />
<rect x="916" y="466" width="1" height="1" fill="#ff0000" />
<rect x="920" y="462" width="1" height="1" fill="#ff0000" />
<rect x="921" y="461" width="1" height="1" fill="#ff0000" />
<rect x="922" y="460" width="1" height="1" fill="#ff0000" />
<rect x="926" y="457" width="1" height="1" fill="#ff0000" />
<rect x="927" y="456" width="1" height="1" fill="#ff0000" />
<rect x="928" y="456" width="1" height="1" fill="#ff0000" />
<rect x="932" y="454" width="1" height="1" fill="#ff0000" />
<rect x="933" y="453" width="1" height="1" fill="#ff0000" />
<rect x="934" y="452" width="1" height="1" fill="#ff0000" />
<rect x="938" y="450" width="1" height="1" fill="#ff0000" />
<rect x="939" y="450" width="1" height="1" fill="#ff0000" />
<rect x="940" y="450" width="1" height="1" fill="#ff0000" />
<rect x="944" y="448" width="1" height="1" fill="#ff0000" />
<rect x="945" y="447" width="1" height="1" fill="#ff0000" />
<rect x="946" y="446" width="1" height="1" fill="#ff0000" />
<rect x="950" y="444" width="1" height="1" fill="#ff0000" />
<rect x="951" y="444" width="1" height="1" fill="#ff0000" />
<rect x="952" y="443" width="1" height="1" fill="#ff0000" />
<rect x="956" y="440" width="1" height="1" fill="#ff0000" />
<rect x="957" y="439" width="1" height="1" fill="#ff0000" />
<rect x="958" y="439" width="1" height="1" fill="#ff0000" />
<rect x="962" y="436" width="1" height="1" fill="#ff0000" />
<rect x="963" y="435" width="1" height="1" fill="#ff0000" />
<rect x="964" y="434" width="1" height="1" fill="#ff0000" />
<rect x="968" y="431" width="1" height="1" fill="#ff0000" />
<rect x="969" y="430" width="1" height="1" fill="#ff0000" />
<rect x="970" y="430" width="1" height="1" fill="#ff0000" />
<rect x="974" y="428" width="1" height="1" fill="#ff0000" />
<rect x="975" y="428" width="1" height="1" fill="#ff0000" />
<rect x="976" y="428" width="1" height="1" fill="#ff0000" />
<rect x="980" y="427" width="1" height="1" fill="#ff0000" />
<rect x="981" y="427" width="1" height="1" fill="#ff0000" />
<rect x="982" y="427" width="1" height="1" fill="#ff0000" />
<rect x="986" y="429" width="1" height="1" fill="#ff0000" />
<rect x="987" y="429" width="1" height="1" fill="#ff0000" />
<rect x="988" y="430" width="1" height="1" fill="#ff0000" />
<rect x="992" y="433" width="1" height="1" fill="#ff0000" />
<rect x="993" y="434" width="1" height="1" fill="#ff0000" />
<rect x="994" y="434" width="1" height="1" fill="#ff0000" />
<rect x="998" y="438" width="1" height="1" fill="#ff0000" />
<rect x="999" y="439" width="1" height="1" fill="#ff0000" />
<rect x="1000" y="440" width="1" height="1" fill="#ff0000" />
<rect x="1003" y="444" width="1" height="1" fill="#ff0000" />
<rect x="1004" y="445" width="1" height="1" fill="#ff0000" />
<rect x="1005" y="446" width="1" height="1" fill="#ff0000" />
<rect x="1009" y="450" width="1" height="1" fill="#ff0000" />
<rect x="1010" y="450" width="1" height="1" fill="#ff0000" />
<rect x="1011" y="451" width="1" height="1" fill="#ff0000" />
<rect x="1015" y="454" width="1" height="1" fill="#ff0000" />
<rect x="1016" y="455" width="1" height="1" fill="#ff0000" />
<rect x="1017" y="456" width="1" height="1" fill="#ff0000" />
<rect x="1021" y="458" width="1" height="1" fill="#ff0000" />
<rect x="1022" y="459" width="1" height="1" fill="#ff0000" />
<rect x="1023" y="459" width="1" height="1" fill="#ff0000" />
<rect x="1027" y="461" width="1" height="1" fill="#ff0000" />
<rect x="1028" y="461" width="1" height="1" fill="#ff0000" />
<rect x="1029" y="461" width="1" height="1" fill="#ff0000" />
<rect x="1033" y="461" width="1" height="1" fill="#ff0000" />
<rect x="1034" y="461" width="1" height="1" fill="#ff0000" />
</g>
<text x="7.3" y="402" font-size="9.3" fill="#000" text-anchor="start" font-weight="normal" >MACD(12,26,9) -0.000178 -0.000357</text>
<path d="M1306 285 L1308 283 L1308 274 L1349 274 L1349 285 Z" fill="#000"/>
<text x="1312" y="282.8" font-size="9" fill="#fff" text-anchor="start" font-weight="normal" >0.99410</text>
<path d="M6 40 L9.6 36.3 L13.3 40 Z" fill="#000"/>
<text x="18.4" y="40.8" font-size="9.6" fill="#000" text-anchor="start" font-weight="normal" textLength="54" lengthAdjust="spacingAndGlyphs">USDCHF,H4</text>
<text x="79.3" y="40.8" font-size="9.6" fill="#000" text-anchor="start" font-weight="normal" textLength="140.7" lengthAdjust="spacingAndGlyphs">0.99416 0.99544 0.99343 0.99410</text>
<defs><linearGradient id="gb" x1="0" y1="0" x2="0" y2="1"><stop offset="0" stop-color="#3030e8"/><stop offset="1" stop-color="#0000b4"/></linearGradient><linearGradient id="gt" x1="0" y1="0" x2="0" y2="1"><stop offset="0" stop-color="#5a5af0"/><stop offset="1" stop-color="#3c3ce6"/></linearGradient><linearGradient id="gs" x1="0" y1="0" x2="0" y2="1"><stop offset="0" stop-color="#f4f4f4"/><stop offset="1" stop-color="#d0d0d0"/></linearGradient></defs>
<rect x="6" y="49" width="52" height="24" fill="url(#gt)" />
<rect x="6" y="73" width="109" height="40" fill="url(#gb)" />
<rect x="10" y="72" width="44" height="1" fill="#8c8cf4" />
<text x="18.4" y="64.9" font-size="12" fill="#fff" text-anchor="start" font-weight="normal" textLength="25.3" lengthAdjust="spacingAndGlyphs">SELL</text>
<rect x="174" y="49" width="51" height="24" fill="url(#gt)" />
<rect x="117" y="73" width="108" height="40" fill="url(#gb)" />
<rect x="178" y="72" width="43" height="1" fill="#8c8cf4" />
<text x="198.5" y="64.9" font-size="12" fill="#fff" text-anchor="middle" font-weight="normal" >BUY</text>
<rect x="60.5" y="49.5" width="110" height="21" fill="#fff" stroke="#b4b4b4" stroke-width="1"/>
<rect x="61" y="50" width="20" height="20" fill="url(#gs)" />
<rect x="61.5" y="50.5" width="20" height="20" fill="none" stroke="#c8c8c8" stroke-width="1"/>
<rect x="150" y="50" width="20" height="20" fill="url(#gs)" />
<rect x="149.5" y="50.5" width="20" height="20" fill="none" stroke="#c8c8c8" stroke-width="1"/>
<path d="M68.5 58 L72.5 58 L70.5 60.5 Z" fill="#6070c0"/>
<path d="M157.5 60.5 L161.5 60.5 L159.5 58 Z" fill="#6070c0"/>
<text x="145.7" y="63.7" font-size="12" fill="#000" text-anchor="end" font-weight="normal" >3.00</text>
<text x="26.4" y="102.6" font-size="12" fill="#fff" text-anchor="start" font-weight="bold" textLength="23.3" lengthAdjust="spacingAndGlyphs">0.99</text>
<text x="53.5" y="103.4" font-size="32" fill="#fff" text-anchor="start" font-weight="normal" textLength="34.7" lengthAdjust="spacingAndGlyphs">41</text>
<text x="92.7" y="88.3" font-size="12.5" fill="#fff" text-anchor="start" font-weight="bold" textLength="7" lengthAdjust="spacingAndGlyphs">0</text>
<text x="136.4" y="102.6" font-size="12" fill="#fff" text-anchor="start" font-weight="bold" textLength="23.3" lengthAdjust="spacingAndGlyphs">0.99</text>
<text x="163.8" y="103.4" font-size="32" fill="#fff" text-anchor="start" font-weight="normal" textLength="34.4" lengthAdjust="spacingAndGlyphs">43</text>
<text x="204.2" y="88.3" font-size="12.5" fill="#fff" text-anchor="start" font-weight="bold" textLength="6.5" lengthAdjust="spacingAndGlyphs">8</text>
<rect x="0" y="571" width="1349" height="1" fill="#e3e3e3" />
<rect x="0" y="572" width="1349" height="2" fill="#f0f0f0" />
<rect x="0" y="573" width="1349" height="1" fill="#000" />
<rect x="0" y="574" width="1349" height="19" fill="#f0f0f0" />
<rect x="0" y="593" width="1349" height="1" fill="#ffffff" />
<rect x="0" y="594" width="1349" height="3" fill="#f0f0f0" />
<rect x="188" y="571" width="88" height="21" fill="#ffffff" />
<rect x="188" y="573" width="1" height="19" fill="#000" />
<rect x="275" y="573" width="1" height="19" fill="#000" />
<rect x="188" y="591" width="88" height="1" fill="#000" />
<text x="16.6" y="588" font-size="11.8" fill="#6e6e6e" text-anchor="start" font-weight="normal" >EURUSD,H4</text>
<text x="106.9" y="588" font-size="11.8" fill="#6e6e6e" text-anchor="start" font-weight="normal" >AUDUSD,H4</text>
<text x="287.3" y="588" font-size="11.8" fill="#6e6e6e" text-anchor="start" font-weight="normal" >USDCAD,Daily</text>
<text x="390" y="588" font-size="11.8" fill="#6e6e6e" text-anchor="start" font-weight="normal" >USDCNH,H4</text>
<text x="483.5" y="588" font-size="11.8" fill="#6e6e6e" text-anchor="start" font-weight="normal" >USDJPY,M15</text>
<text x="579" y="588" font-size="11.8" fill="#6e6e6e" text-anchor="start" font-weight="normal" >XAUUSD,H1</text>
<text x="671.5" y="588" font-size="11.8" fill="#6e6e6e" text-anchor="start" font-weight="normal" >GBPUSD,Weekly</text>
<text x="787.2" y="588" font-size="11.8" fill="#6e6e6e" text-anchor="start" font-weight="normal" >SP500,H1</text>
<rect x="96" y="576" width="1" height="13" fill="#707070" />
<rect x="380" y="576" width="1" height="13" fill="#707070" />
<rect x="472" y="576" width="1" height="13" fill="#707070" />
<rect x="568" y="576" width="1" height="13" fill="#707070" />
<rect x="660" y="576" width="1" height="13" fill="#707070" />
<rect x="776" y="576" width="1" height="13" fill="#707070" />
<rect x="852" y="576" width="1" height="13" fill="#707070" />
<text x="198.4" y="588" font-size="11.8" fill="#000" text-anchor="start" font-weight="normal" >USDCHF,H4</text>
<path d="M1322.5 578 L1318.5 582 L1322.5 586 Z" fill="#a0a0a0"/>
<path d="M1337.5 578 L1341.5 582 L1337.5 586 Z" fill="#a0a0a0"/></svg></body></html>
